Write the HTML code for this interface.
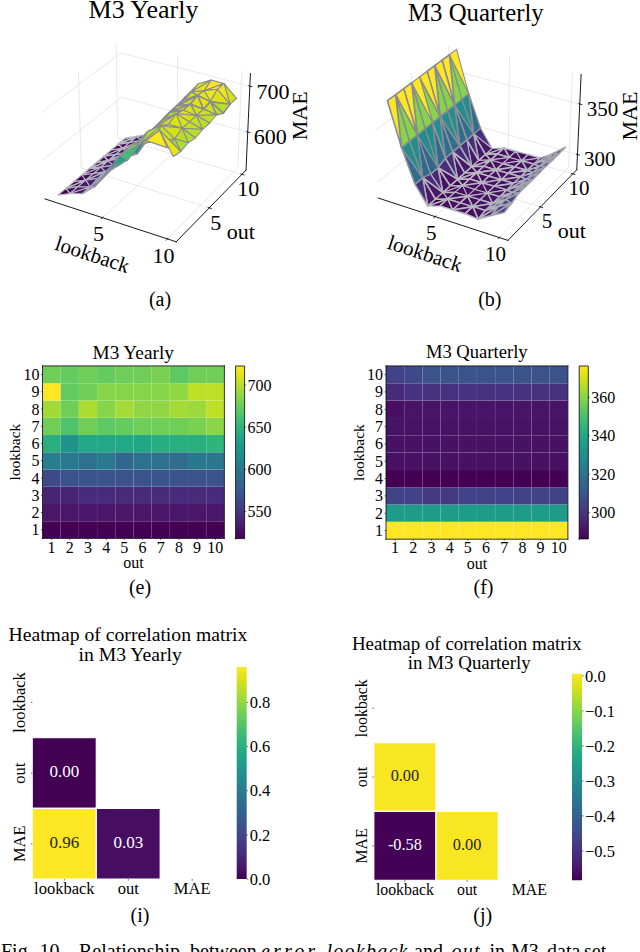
<!DOCTYPE html>
<html><head><meta charset="utf-8"><style>
html,body{margin:0;padding:0;background:#fff;width:640px;height:952px;overflow:hidden}
svg{display:block;font-family:"Liberation Serif"}
</style></head><body>
<svg width="640" height="952" viewBox="0 0 640 952" version="1.1">
  <defs><linearGradient id="vir" x1="0" y1="1" x2="0" y2="0"><stop offset="0.0000" stop-color="#440154"/><stop offset="0.0625" stop-color="#48186a"/><stop offset="0.1250" stop-color="#472d7b"/><stop offset="0.1875" stop-color="#424086"/><stop offset="0.2500" stop-color="#3b528b"/><stop offset="0.3125" stop-color="#33638d"/><stop offset="0.3750" stop-color="#2c728e"/><stop offset="0.4375" stop-color="#26828e"/><stop offset="0.5000" stop-color="#21918c"/><stop offset="0.5625" stop-color="#1fa088"/><stop offset="0.6250" stop-color="#28ae80"/><stop offset="0.6875" stop-color="#3fbc73"/><stop offset="0.7500" stop-color="#5ec962"/><stop offset="0.8125" stop-color="#84d44b"/><stop offset="0.8750" stop-color="#addc30"/><stop offset="0.9375" stop-color="#d8e219"/><stop offset="1.0000" stop-color="#fde725"/></linearGradient>
  <style type="text/css">*{stroke-linejoin: round; stroke-linecap: butt}</style>
 </defs>
 <g id="figure_1">
  <g id="patch_1">
   <path d="M 0 952 L 640 952 L 640 0 L 0 0 z
" style="fill: #ffffff"/>
  </g>
  <g id="patch_2">
   <path d="M 27.178074 256.52996 L 261.051142 256.52996 L 261.051142 22.656892 L 27.178074 22.656892 z
" style="fill: #ffffff"/>
  </g>
  <g id="pane3d_1">
   <g id="patch_3">
    <path d="M 44.837103 198.864357 L 122.069628 134.126523 L 120.996022 40.762993 L 40.067523 99.820926 " style="fill: none; opacity: 0"/>
   </g>
  </g>
  <g id="pane3d_2">
   <g id="patch_4">
    <path d="M 122.069628 134.126523 L 246.000275 170.148269 L 250.422923 73.568939 L 120.996022 40.762993 " style="fill: none; opacity: 0"/>
   </g>
  </g>
  <g id="pane3d_3">
   <g id="patch_5">
    <path d="M 44.837103 198.864357 L 176.209641 241.770627 L 246.000275 170.148269 L 122.069628 134.126523 " style="fill: none; opacity: 0"/>
   </g>
  </g>
  <g id="grid3d_1">
   <g id="Line3DCollection_1">
    <path d="M 102.442763 217.678365 L 176.546843 149.960898 L 177.821969 55.166714 " style="fill: none; stroke: #d9d9d9; stroke-width: 0.6"/>
    <path d="M 167.427108 238.902252 L 237.749316 167.750041 L 241.789043 71.380503 " style="fill: none; stroke: #d9d9d9; stroke-width: 0.6"/>
   </g>
  </g>
  <g id="grid3d_2">
   <g id="Line3DCollection_2">
    <path d="M 78.398989 71.848368 L 81.34488 168.262814 L 209.276451 207.835946 " style="fill: none; stroke: #d9d9d9; stroke-width: 0.6"/>
    <path d="M 116.259068 44.219807 L 117.532821 137.929365 L 241.917624 174.338073 " style="fill: none; stroke: #d9d9d9; stroke-width: 0.6"/>
   </g>
  </g>
  <g id="grid3d_3">
   <g id="Line3DCollection_3">
    <path d="M 247.744676 132.055006 L 121.64563 97.254563 L 42.957784 159.839073 " style="fill: none; stroke: #d9d9d9; stroke-width: 0.6"/>
    <path d="M 249.845694 86.174145 L 121.135889 52.926134 L 40.690945 112.766701 " style="fill: none; stroke: #d9d9d9; stroke-width: 0.6"/>
   </g>
  </g>
  <g id="axis3d_1">
   <g id="line2d_1">
    <path d="M 44.837103 198.864357 L 176.209641 241.770627 " style="fill: none; stroke: #000000; stroke-width: 0.9; stroke-linecap: square"/>
   </g>
   <g id="xtick_1">
    <g id="line2d_2">
     <path d="M 103.089127 217.087708 L 101.147206 218.862266 " style="fill: none; stroke: #000000; stroke-width: 0.8; stroke-linecap: square"/>
    </g>
    <g id="text_1">
     <text style="font-size: 22px; font-family: 'Liberation Serif'; text-anchor: middle" x="98.551933" y="241.332627" transform="rotate(-0 98.551933 241.332627)">5</text>
    </g>
   </g>
   <g id="xtick_2">
    <g id="line2d_3">
     <path d="M 168.041813 238.280292 L 166.194936 240.148967 " style="fill: none; stroke: #000000; stroke-width: 0.8; stroke-linecap: square"/>
    </g>
    <g id="text_2">
     <text style="font-size: 22px; font-family: 'Liberation Serif'; text-anchor: middle" x="163.584185" y="262.825484" transform="rotate(-0 163.584185 262.825484)">10</text>
    </g>
   </g>
   <g id="text_3">
    <text style="font-size: 21px; font-family: 'Liberation Serif'; text-anchor: middle" x="90.254951" y="261.29109" transform="rotate(-341.912962 90.254951 261.29109)">lookback</text>
   </g>
  </g>
  <g id="axis3d_2">
   <g id="line2d_4">
    <path d="M 246.000275 170.148269 L 176.209641 241.770627 " style="fill: none; stroke: #000000; stroke-width: 0.9; stroke-linecap: square"/>
   </g>
   <g id="xtick_3">
    <g id="line2d_5">
     <path d="M 208.200274 207.503051 L 211.431492 208.502565 " style="fill: none; stroke: #000000; stroke-width: 0.8; stroke-linecap: square"/>
    </g>
    <g id="text_4">
     <text style="font-size: 22px; font-family: 'Liberation Serif'; text-anchor: middle" x="215.770245" y="229.849227" transform="rotate(-0 215.770245 229.849227)">5</text>
    </g>
   </g>
   <g id="xtick_4">
    <g id="line2d_6">
     <path d="M 240.873425 174.032425 L 244.008519 174.950099 " style="fill: none; stroke: #000000; stroke-width: 0.8; stroke-linecap: square"/>
    </g>
    <g id="text_5">
     <text style="font-size: 22px; font-family: 'Liberation Serif'; text-anchor: middle" x="248.150578" y="196.058176" transform="rotate(-0 248.150578 196.058176)">10</text>
    </g>
   </g>
   <g id="text_6">
    <text style="font-size: 22px; font-family: 'Liberation Serif'; text-anchor: middle" x="240.722625" y="238.78496" transform="rotate(-0 240.722625 238.78496)">out</text>
   </g>
  </g>
  <g id="axis3d_3">
   <g id="line2d_7">
    <path d="M 246.000275 170.148269 L 250.422923 73.568939 " style="fill: none; stroke: #000000; stroke-width: 0.9; stroke-linecap: square"/>
   </g>
   <g id="xtick_5">
    <g id="line2d_8">
     <path d="M 246.685483 131.762693 L 249.865626 132.64034 " style="fill: none; stroke: #000000; stroke-width: 0.8; stroke-linecap: square"/>
    </g>
    <g id="text_7">
     <text style="font-size: 22px; font-family: 'Liberation Serif'; text-anchor: middle" x="270.317846" y="144.258373" transform="rotate(-0 270.317846 144.258373)">600</text>
    </g>
   </g>
   <g id="xtick_6">
    <g id="line2d_9">
     <path d="M 248.763496 85.894594 L 252.012764 86.733937 " style="fill: none; stroke: #000000; stroke-width: 0.8; stroke-linecap: square"/>
    </g>
    <g id="text_8">
     <text style="font-size: 22px; font-family: 'Liberation Serif'; text-anchor: middle" x="272.879826" y="98.511454" transform="rotate(-0 272.879826 98.511454)">700</text>
    </g>
   </g>
   <g id="text_9">
    <text style="font-size: 22px; font-family: 'Liberation Serif'; text-anchor: middle" x="306.572575" y="115.799926" transform="rotate(-90 306.572575 115.799926)">MAE</text>
   </g>
  </g>
  <g id="axes_1">
   <g id="Poly3DCollection_1">
    <path d="M 118.105833 144.238759 L 136.674452 136.510986 L 125.077398 138.340769 z
" clip-path="url(#pc98b0e5503)" style="fill: #440154; stroke: #b8b8c2; stroke-width: 1.6"/>
    <path d="M 129.747543 142.435982 L 136.674452 136.510986 L 118.105833 144.238759 z
" clip-path="url(#pc98b0e5503)" style="fill: #46085c; stroke: #b8b8c2; stroke-width: 1.6"/>
    <path d="M 148.435949 134.655258 L 136.674452 136.510986 L 141.555677 140.607434 z
" clip-path="url(#pc98b0e5503)" style="fill: #482173; stroke: #b2b2bc; stroke-width: 1.592955"/>
    <path d="M 141.555677 140.607434 L 136.674452 136.510986 L 129.747543 142.435982 z
" clip-path="url(#pc98b0e5503)" style="fill: #481a6c; stroke: #b6b6c0; stroke-width: 1.56258"/>
    <path d="M 129.747543 142.435982 L 118.105833 144.238759 L 122.707262 148.457951 z
" clip-path="url(#pc98b0e5503)" style="fill: #46085c; stroke: #b8b8c2; stroke-width: 1.452867"/>
    <path d="M 122.707262 148.457951 L 118.105833 144.238759 L 111.020977 150.232594 z
" clip-path="url(#pc98b0e5503)" style="fill: #440154; stroke: #b8b8c2; stroke-width: 1.363593"/>
    <path d="M 141.555677 140.607434 L 160.402558 126.549029 L 148.435949 134.655258 z
" clip-path="url(#pc98b0e5503)" style="fill: #443983; stroke: #a8a8b2; stroke-width: 1.05"/>
    <path d="M 129.747543 142.435982 L 122.707262 148.457951 L 141.555677 140.607434 z
" clip-path="url(#pc98b0e5503)" style="fill: #481a6c; stroke: #b6b6c0; stroke-width: 1.05"/>
    <path d="M 111.020977 150.232594 L 103.820045 156.32463 L 122.707262 148.457951 z
" clip-path="url(#pc98b0e5503)" style="fill: #440154; stroke: #b8b8c2; stroke-width: 1.211137"/>
    <path d="M 141.555677 140.607434 L 122.707262 148.457951 L 134.561986 146.65773 z
" clip-path="url(#pc98b0e5503)" style="fill: #482173; stroke: #b2b2bc; stroke-width: 1.141068"/>
    <path d="M 141.555677 140.607434 L 153.551739 132.494273 L 160.402558 126.549029 z
" clip-path="url(#pc98b0e5503)" style="fill: #3f4889; stroke: #a2a2ac; stroke-width: 1.05"/>
    <path d="M 122.707262 148.457951 L 103.820045 156.32463 L 115.550803 154.579294 z
" clip-path="url(#pc98b0e5503)" style="fill: #46085c; stroke: #b8b8c2; stroke-width: 1.05"/>
    <path d="M 172.631646 116.469467 L 160.402558 126.549029 L 153.551739 132.494273 z
" clip-path="url(#pc98b0e5503)" style="fill: #31668e; stroke: #9696a1; stroke-width: 1.6"/>
    <path d="M 127.452048 152.808592 L 134.561986 146.65773 L 122.707262 148.457951 z
" clip-path="url(#pc98b0e5503)" style="fill: #482173; stroke: #b2b2bc; stroke-width: 1.6"/>
    <path d="M 141.555677 140.607434 L 134.561986 146.65773 L 146.586838 138.538519 z
" clip-path="url(#pc98b0e5503)" style="fill: #443983; stroke: #a8a8b2; stroke-width: 1.197777"/>
    <path d="M 122.707262 148.457951 L 115.550803 154.579294 L 127.452048 152.808592 z
" clip-path="url(#pc98b0e5503)" style="fill: #481a6c; stroke: #b6b6c0; stroke-width: 1.149699"/>
    <path d="M 146.586838 138.538519 L 153.551739 132.494273 L 141.555677 140.607434 z
" clip-path="url(#pc98b0e5503)" style="fill: #3f4889; stroke: #a2a2ac; stroke-width: 1.347179"/>
    <path d="M 115.550803 154.579294 L 103.820045 156.32463 L 108.275268 160.80249 z
" clip-path="url(#pc98b0e5503)" style="fill: #46085c; stroke: #b8b8c2; stroke-width: 1.421727"/>
    <path d="M 108.275268 160.80249 L 103.820045 156.32463 L 96.500161 162.5173 z
" clip-path="url(#pc98b0e5503)" style="fill: #440154; stroke: #b8b8c2; stroke-width: 1.6"/>
    <path d="M 127.452048 152.808592 L 115.550803 154.579294 L 108.275268 160.80249 z
" clip-path="url(#pc98b0e5503)" style="fill: #481a6c; stroke: #b6b6c0; stroke-width: 1.6"/>
    <path d="M 165.807434 122.396071 L 172.631646 116.469467 L 153.551739 132.494273 z
" clip-path="url(#pc98b0e5503)" style="fill: #2c738e; stroke: #91919c; stroke-width: 1.547925"/>
    <path d="M 108.275268 160.80249 L 96.500161 162.5173 L 89.058354 168.813118 z
" clip-path="url(#pc98b0e5503)" style="fill: #440154; stroke: #b8b8c2; stroke-width: 1.592955"/>
    <path d="M 139.501751 143.777296 L 134.561986 146.65773 L 127.452048 152.808592 z
" clip-path="url(#pc98b0e5503)" style="fill: #443a83; stroke: #a7a7b1; stroke-width: 1.6"/>
    <path d="M 146.586838 138.538519 L 134.561986 146.65773 L 139.501751 143.777296 z
" clip-path="url(#pc98b0e5503)" style="fill: #3e4989; stroke: #a1a1ab; stroke-width: 1.6"/>
    <path d="M 158.844214 132.991972 L 153.551739 132.494273 L 146.586838 138.538519 z
" clip-path="url(#pc98b0e5503)" style="fill: #34618d; stroke: #9898a2; stroke-width: 1.6"/>
    <path d="M 165.807434 122.396071 L 153.551739 132.494273 L 158.844214 132.991972 z
" clip-path="url(#pc98b0e5503)" style="fill: #2e6f8e; stroke: #93939d; stroke-width: 1.6"/>
    <path d="M 108.275268 160.80249 L 120.222939 159.06255 L 127.452048 152.808592 z
" clip-path="url(#pc98b0e5503)" style="fill: #482173; stroke: #b2b2bc; stroke-width: 1.409665"/>
    <path d="M 89.058354 168.813118 L 100.877659 167.130103 L 108.275268 160.80249 z
" clip-path="url(#pc98b0e5503)" style="fill: #46085c; stroke: #b8b8c2; stroke-width: 1.33648"/>
    <path d="M 127.452048 152.808592 L 120.222939 159.06255 L 139.501751 143.777296 z
" clip-path="url(#pc98b0e5503)" style="fill: #443a83; stroke: #a7a7b1; stroke-width: 1.577573"/>
    <path d="M 178.440399 104.647148 L 172.631646 116.469467 L 165.807434 122.396071 z
" clip-path="url(#pc98b0e5503)" style="fill: #1f978b; stroke: #8a8a94; stroke-width: 1.533574"/>
    <path d="M 89.058354 168.813118 L 81.49155 175.214683 L 100.877659 167.130103 z
" clip-path="url(#pc98b0e5503)" style="fill: #440154; stroke: #b8b8c2; stroke-width: 1.533574"/>
    <path d="M 139.501751 143.777296 L 158.844214 132.991972 L 146.586838 138.538519 z
" clip-path="url(#pc98b0e5503)" style="fill: #33628d; stroke: #9898a2; stroke-width: 1.577573"/>
    <path d="M 112.87164 165.422216 L 120.222939 159.06255 L 108.275268 160.80249 z
" clip-path="url(#pc98b0e5503)" style="fill: #482173; stroke: #b2b2bc; stroke-width: 1.05"/>
    <path d="M 178.440399 104.647148 L 185.288461 96.930778 L 172.631646 116.469467 z
" clip-path="url(#pc98b0e5503)" style="fill: #28ae80; stroke: #8a8a94; stroke-width: 1.05"/>
    <path d="M 108.275268 160.80249 L 100.877659 167.130103 L 112.87164 165.422216 z
" clip-path="url(#pc98b0e5503)" style="fill: #481a6c; stroke: #b6b6c0; stroke-width: 1.197777"/>
    <path d="M 165.807434 122.396071 L 158.844214 132.991972 L 178.440399 104.647148 z
" clip-path="url(#pc98b0e5503)" style="fill: #20928c; stroke: #8a8a94; stroke-width: 1.149699"/>
    <path d="M 139.501751 143.777296 L 120.222939 159.06255 L 132.303199 150.934076 z
" clip-path="url(#pc98b0e5503)" style="fill: #3e4989; stroke: #a1a1ab; stroke-width: 1.05"/>
    <path d="M 100.877659 167.130103 L 81.49155 175.214683 L 93.354877 173.564784 z
" clip-path="url(#pc98b0e5503)" style="fill: #46085c; stroke: #b8b8c2; stroke-width: 1.05"/>
    <path d="M 151.805666 137.310723 L 158.844214 132.991972 L 139.501751 143.777296 z
" clip-path="url(#pc98b0e5503)" style="fill: #2e6d8e; stroke: #94949e; stroke-width: 1.05"/>
    <path d="M 112.87164 165.422216 L 100.877659 167.130103 L 105.395024 171.890294 z
" clip-path="url(#pc98b0e5503)" style="fill: #482173; stroke: #b2b2bc; stroke-width: 1.05"/>
    <path d="M 124.978418 157.290631 L 120.222939 159.06255 L 112.87164 165.422216 z
" clip-path="url(#pc98b0e5503)" style="fill: #443983; stroke: #a8a8b2; stroke-width: 1.05"/>
    <path d="M 105.395024 171.890294 L 100.877659 167.130103 L 93.354877 173.564784 z
" clip-path="url(#pc98b0e5503)" style="fill: #481a6c; stroke: #b6b6c0; stroke-width: 1.05"/>
    <path d="M 132.303199 150.934076 L 120.222939 159.06255 L 124.978418 157.290631 z
" clip-path="url(#pc98b0e5503)" style="fill: #3f4889; stroke: #a2a2ac; stroke-width: 1.05"/>
    <path d="M 93.354877 173.564784 L 81.49155 175.214683 L 85.703718 180.109273 z
" clip-path="url(#pc98b0e5503)" style="fill: #46085c; stroke: #b8b8c2; stroke-width: 1.05"/>
    <path d="M 85.703718 180.109273 L 81.49155 175.214683 L 73.796576 181.724683 z
" clip-path="url(#pc98b0e5503)" style="fill: #440154; stroke: #b8b8c2; stroke-width: 1.05"/>
    <path d="M 178.440399 104.647148 L 158.844214 132.991972 L 171.507491 110.610256 z
" clip-path="url(#pc98b0e5503)" style="fill: #22a884; stroke: #8a8a94; stroke-width: 1.05"/>
    <path d="M 144.636936 143.560087 L 139.501751 143.777296 L 132.303199 150.934076 z
" clip-path="url(#pc98b0e5503)" style="fill: #32648e; stroke: #9797a1; stroke-width: 1.05"/>
    <path d="M 151.805666 137.310723 L 139.501751 143.777296 L 144.636936 143.560087 z
" clip-path="url(#pc98b0e5503)" style="fill: #2e6f8e; stroke: #93939d; stroke-width: 1.05"/>
    <path d="M 185.288461 96.930778 L 178.440399 104.647148 L 191.333498 92.077185 z
" clip-path="url(#pc98b0e5503)" style="fill: #6ece58; stroke: #8a8a94; stroke-width: 1.202216"/>
    <path d="M 191.333498 92.077185 L 198.178255 83.797499 L 185.288461 96.930778 z
" clip-path="url(#pc98b0e5503)" style="fill: #a0da39; stroke: #8a8a94; stroke-width: 1.141068"/>
    <path d="M 164.447795 117.617959 L 158.844214 132.991972 L 151.805666 137.310723 z
" clip-path="url(#pc98b0e5503)" style="fill: #218f8d; stroke: #8a8a94; stroke-width: 1.162698"/>
    <path d="M 112.87164 165.422216 L 105.395024 171.890294 L 124.978418 157.290631 z
" clip-path="url(#pc98b0e5503)" style="fill: #443983; stroke: #a8a8b2; stroke-width: 1.224648"/>
    <path d="M 93.354877 173.564784 L 85.703718 180.109273 L 105.395024 171.890294 z
" clip-path="url(#pc98b0e5503)" style="fill: #481a6c; stroke: #b6b6c0; stroke-width: 1.197777"/>
    <path d="M 73.796576 181.724683 L 65.970145 188.345895 L 85.703718 180.109273 z
" clip-path="url(#pc98b0e5503)" style="fill: #440154; stroke: #b8b8c2; stroke-width: 1.167048"/>
    <path d="M 171.507491 110.610256 L 158.844214 132.991972 L 164.447795 117.617959 z
" clip-path="url(#pc98b0e5503)" style="fill: #22a785; stroke: #8a8a94; stroke-width: 1.409665"/>
    <path d="M 132.303199 150.934076 L 124.978418 157.290631 L 144.636936 143.560087 z
" clip-path="url(#pc98b0e5503)" style="fill: #33638d; stroke: #9898a2; stroke-width: 1.33648"/>
    <path d="M 191.333498 92.077185 L 178.440399 104.647148 L 171.507491 110.610256 z
" clip-path="url(#pc98b0e5503)" style="fill: #69cd5b; stroke: #8a8a94; stroke-width: 1.409665"/>
    <path d="M 151.805666 137.310723 L 144.636936 143.560087 L 164.447795 117.617959 z
" clip-path="url(#pc98b0e5503)" style="fill: #21918c; stroke: #8a8a94; stroke-width: 1.33648"/>
    <path d="M 105.395024 171.890294 L 85.703718 180.109273 L 97.789861 178.469579 z
" clip-path="url(#pc98b0e5503)" style="fill: #482173; stroke: #b2b2bc; stroke-width: 1.220126"/>
    <path d="M 211.112089 80.106064 L 198.178255 83.797499 L 191.333498 92.077185 z
" clip-path="url(#pc98b0e5503)" style="fill: #dfe318; stroke: #8a8a94; stroke-width: 1.171406"/>
    <path d="M 124.978418 157.290631 L 105.395024 171.890294 L 117.52746 163.756685 z
" clip-path="url(#pc98b0e5503)" style="fill: #3f4889; stroke: #a2a2ac; stroke-width: 1.403716"/>
    <path d="M 85.703718 180.109273 L 65.970145 188.345895 L 77.920869 186.766405 z
" clip-path="url(#pc98b0e5503)" style="fill: #46085c; stroke: #b8b8c2; stroke-width: 1.331203"/>
    <path d="M 144.636936 143.560087 L 124.978418 157.290631 L 137.361466 153.627539 z
" clip-path="url(#pc98b0e5503)" style="fill: #306a8e; stroke: #95959f; stroke-width: 1.331203"/>
    <path d="M 171.507491 110.610256 L 184.395242 99.910428 L 191.333498 92.077185 z
" clip-path="url(#pc98b0e5503)" style="fill: #8ed645; stroke: #8a8a94; stroke-width: 1.403716"/>
    <path d="M 191.333498 92.077185 L 204.250406 90.7206 L 211.112089 80.106064 z
" clip-path="url(#pc98b0e5503)" style="fill: #e7e419; stroke: #8a8a94; stroke-width: 1.05"/>
    <path d="M 85.703718 180.109273 L 90.101886 186.999233 L 97.789861 178.469579 z
" clip-path="url(#pc98b0e5503)" style="fill: #481f70; stroke: #b3b3bd; stroke-width: 1.05"/>
    <path d="M 171.507491 110.610256 L 164.447795 117.617959 L 184.395242 99.910428 z
" clip-path="url(#pc98b0e5503)" style="fill: #63cb5f; stroke: #8a8a94; stroke-width: 1.05"/>
    <path d="M 77.920869 186.766405 L 90.101886 186.999233 L 85.703718 180.109273 z
" clip-path="url(#pc98b0e5503)" style="fill: #481769; stroke: #b7b7c1; stroke-width: 1.05"/>
    <path d="M 97.789861 178.469579 L 109.947037 170.33509 L 105.395024 171.890294 z
" clip-path="url(#pc98b0e5503)" style="fill: #443983; stroke: #a8a8b2; stroke-width: 1.05"/>
    <path d="M 105.395024 171.890294 L 109.947037 170.33509 L 117.52746 163.756685 z
" clip-path="url(#pc98b0e5503)" style="fill: #3f4889; stroke: #a2a2ac; stroke-width: 1.05"/>
    <path d="M 65.970145 188.345895 L 70.002899 193.539113 L 77.920869 186.766405 z
" clip-path="url(#pc98b0e5503)" style="fill: #46085c; stroke: #b8b8c2; stroke-width: 1.211137"/>
    <path d="M 204.250406 90.7206 L 224.01393 83.458434 L 211.112089 80.106064 z
" clip-path="url(#pc98b0e5503)" style="fill: #fde725; stroke: #8a8a94; stroke-width: 1.162698"/>
    <path d="M 58.008861 195.081193 L 70.002899 193.539113 L 65.970145 188.345895 z
" clip-path="url(#pc98b0e5503)" style="fill: #440154; stroke: #b8b8c2; stroke-width: 1.215622"/>
    <path d="M 164.447795 117.617959 L 144.636936 143.560087 L 157.262984 126.632008 z
" clip-path="url(#pc98b0e5503)" style="fill: #21a585; stroke: #8a8a94; stroke-width: 1.18454"/>
    <path d="M 124.978418 157.290631 L 129.895293 152.6408 L 137.361466 153.627539 z
" clip-path="url(#pc98b0e5503)" style="fill: #2e6e8e; stroke: #93939e; stroke-width: 1.05"/>
    <path d="M 117.52746 163.756685 L 129.895293 152.6408 L 124.978418 157.290631 z
" clip-path="url(#pc98b0e5503)" style="fill: #31678e; stroke: #9696a0; stroke-width: 1.05"/>
    <path d="M 137.361466 153.627539 L 149.975904 131.98327 L 144.636936 143.560087 z
" clip-path="url(#pc98b0e5503)" style="fill: #228b8d; stroke: #8a8a94; stroke-width: 1.05"/>
    <path d="M 197.439243 95.236404 L 204.250406 90.7206 L 191.333498 92.077185 z
" clip-path="url(#pc98b0e5503)" style="fill: #dde318; stroke: #8a8a94; stroke-width: 1.05"/>
    <path d="M 184.395242 99.910428 L 197.439243 95.236404 L 191.333498 92.077185 z
" clip-path="url(#pc98b0e5503)" style="fill: #cae11f; stroke: #8a8a94; stroke-width: 1.05"/>
    <path d="M 224.01393 83.458434 L 230.034169 104.323455 L 236.585224 98.309071 z
" clip-path="url(#pc98b0e5503)" style="fill: #d0e11c; stroke: #8a8a94; stroke-width: 1.05"/>
    <path d="M 97.789861 178.469579 L 90.101886 186.999233 L 109.947037 170.33509 z
" clip-path="url(#pc98b0e5503)" style="fill: #453781; stroke: #a9a9b3; stroke-width: 1.05"/>
    <path d="M 217.352611 89.344553 L 224.01393 83.458434 L 204.250406 90.7206 z
" clip-path="url(#pc98b0e5503)" style="fill: #fde725; stroke: #8a8a94; stroke-width: 1.05"/>
    <path d="M 77.920869 186.766405 L 70.002899 193.539113 L 90.101886 186.999233 z
" clip-path="url(#pc98b0e5503)" style="fill: #481769; stroke: #b7b7c1; stroke-width: 1.05"/>
    <path d="M 184.395242 99.910428 L 164.447795 117.617959 L 177.374066 105.952812 z
" clip-path="url(#pc98b0e5503)" style="fill: #86d549; stroke: #8a8a94; stroke-width: 1.05"/>
    <path d="M 144.636936 143.560087 L 149.975904 131.98327 L 157.262984 126.632008 z
" clip-path="url(#pc98b0e5503)" style="fill: #20a386; stroke: #8a8a94; stroke-width: 1.05"/>
    <path d="M 217.352611 89.344553 L 230.034169 104.323455 L 224.01393 83.458434 z
" clip-path="url(#pc98b0e5503)" style="fill: #efe51c; stroke: #8a8a94; stroke-width: 1.05"/>
    <path d="M 117.52746 163.756685 L 109.947037 170.33509 L 129.895293 152.6408 z
" clip-path="url(#pc98b0e5503)" style="fill: #31678e; stroke: #9696a0; stroke-width: 1.05"/>
    <path d="M 197.439243 95.236404 L 184.395242 99.910428 L 177.374066 105.952812 z
" clip-path="url(#pc98b0e5503)" style="fill: #c5e021; stroke: #8a8a94; stroke-width: 1.05"/>
    <path d="M 204.250406 90.7206 L 210.396272 101.612174 L 217.352611 89.344553 z
" clip-path="url(#pc98b0e5503)" style="fill: #efe51c; stroke: #8a8a94; stroke-width: 1.05"/>
    <path d="M 157.262984 126.632008 L 170.229439 112.101439 L 164.447795 117.617959 z
" clip-path="url(#pc98b0e5503)" style="fill: #5ac864; stroke: #8a8a94; stroke-width: 1.05"/>
    <path d="M 137.361466 153.627539 L 129.895293 152.6408 L 149.975904 131.98327 z
" clip-path="url(#pc98b0e5503)" style="fill: #218f8d; stroke: #8a8a94; stroke-width: 1.05"/>
    <path d="M 90.101886 186.999233 L 70.002899 193.539113 L 82.236719 193.819869 z
" clip-path="url(#pc98b0e5503)" style="fill: #481c6e; stroke: #b4b4bf; stroke-width: 1.05"/>
    <path d="M 204.250406 90.7206 L 197.439243 95.236404 L 210.396272 101.612174 z
" clip-path="url(#pc98b0e5503)" style="fill: #e7e419; stroke: #8a8a94; stroke-width: 1.05"/>
    <path d="M 109.947037 170.33509 L 90.101886 186.999233 L 102.233745 177.028801 z
" clip-path="url(#pc98b0e5503)" style="fill: #404688; stroke: #a3a3ad; stroke-width: 1.05"/>
    <path d="M 164.447795 117.617959 L 170.229439 112.101439 L 177.374066 105.952812 z
" clip-path="url(#pc98b0e5503)" style="fill: #86d549; stroke: #8a8a94; stroke-width: 1.05"/>
    <path d="M 210.396272 101.612174 L 230.034169 104.323455 L 217.352611 89.344553 z
" clip-path="url(#pc98b0e5503)" style="fill: #dde318; stroke: #8a8a94; stroke-width: 1.05"/>
    <path d="M 129.895293 152.6408 L 109.947037 170.33509 L 122.375692 162.966397 z
" clip-path="url(#pc98b0e5503)" style="fill: #2c718e; stroke: #92929c; stroke-width: 1.6"/>
    <path d="M 223.26922 113.32531 L 230.034169 104.323455 L 210.396272 101.612174 z
" clip-path="url(#pc98b0e5503)" style="fill: #b5de2b; stroke: #8a8a94; stroke-width: 1.6"/>
    <path d="M 177.374066 105.952812 L 190.414814 104.191351 L 197.439243 95.236404 z
" clip-path="url(#pc98b0e5503)" style="fill: #d5e21a; stroke: #8a8a94; stroke-width: 1.6"/>
    <path d="M 149.975904 131.98327 L 170.229439 112.101439 L 157.262984 126.632008 z
" clip-path="url(#pc98b0e5503)" style="fill: #56c667; stroke: #8a8a94; stroke-width: 1.6"/>
    <path d="M 82.236719 193.819869 L 94.453412 186.649823 L 90.101886 186.999233 z
" clip-path="url(#pc98b0e5503)" style="fill: #46307e; stroke: #ababb6; stroke-width: 1.533574"/>
    <path d="M 90.101886 186.999233 L 94.453412 186.649823 L 102.233745 177.028801 z
" clip-path="url(#pc98b0e5503)" style="fill: #414287; stroke: #a4a4ae; stroke-width: 1.577573"/>
    <path d="M 203.479305 109.198187 L 210.396272 101.612174 L 197.439243 95.236404 z
" clip-path="url(#pc98b0e5503)" style="fill: #dfe318; stroke: #8a8a94; stroke-width: 1.533574"/>
    <path d="M 177.374066 105.952812 L 170.229439 112.101439 L 190.414814 104.191351 z
" clip-path="url(#pc98b0e5503)" style="fill: #bddf26; stroke: #8a8a94; stroke-width: 1.577573"/>
    <path d="M 149.975904 131.98327 L 129.895293 152.6408 L 142.555728 138.390688 z
" clip-path="url(#pc98b0e5503)" style="fill: #22a884; stroke: #8a8a94; stroke-width: 1.533574"/>
    <path d="M 197.439243 95.236404 L 190.414814 104.191351 L 203.479305 109.198187 z
" clip-path="url(#pc98b0e5503)" style="fill: #dfe318; stroke: #8a8a94; stroke-width: 1.577573"/>
    <path d="M 102.233745 177.028801 L 114.635224 165.876924 L 109.947037 170.33509 z
" clip-path="url(#pc98b0e5503)" style="fill: #31678e; stroke: #9696a0; stroke-width: 1.409665"/>
    <path d="M 109.947037 170.33509 L 114.635224 165.876924 L 122.375692 162.966397 z
" clip-path="url(#pc98b0e5503)" style="fill: #2c718e; stroke: #92929c; stroke-width: 1.33648"/>
    <path d="M 210.396272 101.612174 L 216.64503 114.73445 L 223.26922 113.32531 z
" clip-path="url(#pc98b0e5503)" style="fill: #bade28; stroke: #8a8a94; stroke-width: 1.409665"/>
    <path d="M 135.003305 144.912303 L 129.895293 152.6408 L 122.375692 162.966397 z
" clip-path="url(#pc98b0e5503)" style="fill: #20928c; stroke: #8a8a94; stroke-width: 1.33648"/>
    <path d="M 162.944318 120.295932 L 170.229439 112.101439 L 149.975904 131.98327 z
" clip-path="url(#pc98b0e5503)" style="fill: #7cd250; stroke: #8a8a94; stroke-width: 1.6"/>
    <path d="M 203.479305 109.198187 L 216.64503 114.73445 L 210.396272 101.612174 z
" clip-path="url(#pc98b0e5503)" style="fill: #cde11d; stroke: #8a8a94; stroke-width: 1.6"/>
    <path d="M 170.229439 112.101439 L 183.33193 110.370646 L 190.414814 104.191351 z
" clip-path="url(#pc98b0e5503)" style="fill: #cde11d; stroke: #8a8a94; stroke-width: 1.6"/>
    <path d="M 142.555728 138.390688 L 129.895293 152.6408 L 135.003305 144.912303 z
" clip-path="url(#pc98b0e5503)" style="fill: #22a884; stroke: #8a8a94; stroke-width: 1.6"/>
    <path d="M 102.233745 177.028801 L 94.453412 186.649823 L 114.635224 165.876924 z
" clip-path="url(#pc98b0e5503)" style="fill: #32648e; stroke: #9797a1; stroke-width: 1.577573"/>
    <path d="M 203.479305 109.198187 L 190.414814 104.191351 L 196.480954 115.449688 z
" clip-path="url(#pc98b0e5503)" style="fill: #d2e21b; stroke: #8a8a94; stroke-width: 1.533574"/>
    <path d="M 183.33193 110.370646 L 170.229439 112.101439 L 162.944318 120.295932 z
" clip-path="url(#pc98b0e5503)" style="fill: #b8de29; stroke: #8a8a94; stroke-width: 1.577573"/>
    <path d="M 142.555728 138.390688 L 155.545584 127.650247 L 149.975904 131.98327 z
" clip-path="url(#pc98b0e5503)" style="fill: #52c569; stroke: #8a8a94; stroke-width: 1.533574"/>
    <path d="M 196.480954 115.449688 L 190.414814 104.191351 L 183.33193 110.370646 z
" clip-path="url(#pc98b0e5503)" style="fill: #d8e219; stroke: #8a8a94; stroke-width: 1.05"/>
    <path d="M 149.975904 131.98327 L 155.545584 127.650247 L 162.944318 120.295932 z
" clip-path="url(#pc98b0e5503)" style="fill: #75d054; stroke: #8a8a94; stroke-width: 1.05"/>
    <path d="M 122.375692 162.966397 L 114.635224 165.876924 L 135.003305 144.912303 z
" clip-path="url(#pc98b0e5503)" style="fill: #20928c; stroke: #8a8a94; stroke-width: 1.05"/>
    <path d="M 196.480954 115.449688 L 216.64503 114.73445 L 203.479305 109.198187 z
" clip-path="url(#pc98b0e5503)" style="fill: #cae11f; stroke: #8a8a94; stroke-width: 1.05"/>
    <path d="M 114.635224 165.876924 L 94.453412 186.649823 L 106.782389 171.718273 z
" clip-path="url(#pc98b0e5503)" style="fill: #2c738e; stroke: #91919c; stroke-width: 1.05"/>
    <path d="M 162.944318 120.295932 L 176.160786 113.724408 L 183.33193 110.370646 z
" clip-path="url(#pc98b0e5503)" style="fill: #d0e11c; stroke: #8a8a94; stroke-width: 1.05"/>
    <path d="M 196.480954 115.449688 L 209.679204 123.010917 L 216.64503 114.73445 z
" clip-path="url(#pc98b0e5503)" style="fill: #c0df25; stroke: #8a8a94; stroke-width: 1.05"/>
    <path d="M 142.555728 138.390688 L 135.003305 144.912303 L 155.545584 127.650247 z
" clip-path="url(#pc98b0e5503)" style="fill: #52c569; stroke: #8a8a94; stroke-width: 1.05"/>
    <path d="M 196.480954 115.449688 L 183.33193 110.370646 L 176.160786 113.724408 z
" clip-path="url(#pc98b0e5503)" style="fill: #dfe318; stroke: #8a8a94; stroke-width: 1.05"/>
    <path d="M 135.003305 144.912303 L 114.635224 165.876924 L 127.394702 160.226867 z
" clip-path="url(#pc98b0e5503)" style="fill: #1fa088; stroke: #8a8a94; stroke-width: 1.05"/>
    <path d="M 155.545584 127.650247 L 176.160786 113.724408 L 162.944318 120.295932 z
" clip-path="url(#pc98b0e5503)" style="fill: #b8de29; stroke: #8a8a94; stroke-width: 1.05"/>
    <path d="M 196.480954 115.449688 L 176.160786 113.724408 L 189.356954 121.813429 z
" clip-path="url(#pc98b0e5503)" style="fill: #dae319; stroke: #8a8a94; stroke-width: 1.05"/>
    <path d="M 202.649747 129.464513 L 209.679204 123.010917 L 196.480954 115.449688 z
" clip-path="url(#pc98b0e5503)" style="fill: #bade28; stroke: #8a8a94; stroke-width: 1.05"/>
    <path d="M 155.545584 127.650247 L 135.003305 144.912303 L 148.021409 131.213546 z
" clip-path="url(#pc98b0e5503)" style="fill: #7ad151; stroke: #8a8a94; stroke-width: 1.05"/>
    <path d="M 189.356954 121.813429 L 202.649747 129.464513 L 196.480954 115.449688 z
" clip-path="url(#pc98b0e5503)" style="fill: #c5e021; stroke: #8a8a94; stroke-width: 1.05"/>
    <path d="M 168.768563 124.537543 L 176.160786 113.724408 L 155.545584 127.650247 z
" clip-path="url(#pc98b0e5503)" style="fill: #c8e020; stroke: #8a8a94; stroke-width: 1.05"/>
    <path d="M 106.782389 171.718273 L 119.449827 155.385907 L 114.635224 165.876924 z
" clip-path="url(#pc98b0e5503)" style="fill: #1f9a8a; stroke: #8a8a94; stroke-width: 1.05"/>
    <path d="M 114.635224 165.876924 L 119.449827 155.385907 L 127.394702 160.226867 z
" clip-path="url(#pc98b0e5503)" style="fill: #1fa287; stroke: #8a8a94; stroke-width: 1.05"/>
    <path d="M 127.394702 160.226867 L 140.367619 143.722272 L 135.003305 144.912303 z
" clip-path="url(#pc98b0e5503)" style="fill: #3bbb75; stroke: #8a8a94; stroke-width: 1.05"/>
    <path d="M 189.356954 121.813429 L 176.160786 113.724408 L 182.10389 128.29246 z
" clip-path="url(#pc98b0e5503)" style="fill: #dae319; stroke: #8a8a94; stroke-width: 1.05"/>
    <path d="M 182.10389 128.29246 L 176.160786 113.724408 L 168.768563 124.537543 z
" clip-path="url(#pc98b0e5503)" style="fill: #dae319; stroke: #8a8a94; stroke-width: 1.05"/>
    <path d="M 135.003305 144.912303 L 140.367619 143.722272 L 148.021409 131.213546 z
" clip-path="url(#pc98b0e5503)" style="fill: #73d056; stroke: #8a8a94; stroke-width: 1.05"/>
    <path d="M 182.10389 128.29246 L 202.649747 129.464513 L 189.356954 121.813429 z
" clip-path="url(#pc98b0e5503)" style="fill: #c5e021; stroke: #8a8a94; stroke-width: 1.05"/>
    <path d="M 155.545584 127.650247 L 161.335218 125.61881 L 168.768563 124.537543 z
" clip-path="url(#pc98b0e5503)" style="fill: #cae11f; stroke: #8a8a94; stroke-width: 1.05"/>
    <path d="M 148.021409 131.213546 L 161.335218 125.61881 L 155.545584 127.650247 z
" clip-path="url(#pc98b0e5503)" style="fill: #c0df25; stroke: #8a8a94; stroke-width: 1.05"/>
    <path d="M 127.394702 160.226867 L 119.449827 155.385907 L 140.367619 143.722272 z
" clip-path="url(#pc98b0e5503)" style="fill: #40bd72; stroke: #8a8a94; stroke-width: 1.05"/>
    <path d="M 182.10389 128.29246 L 195.449149 138.00439 L 202.649747 129.464513 z
" clip-path="url(#pc98b0e5503)" style="fill: #b5de2b; stroke: #8a8a94; stroke-width: 1.05"/>
    <path d="M 168.768563 124.537543 L 161.335218 125.61881 L 182.10389 128.29246 z
" clip-path="url(#pc98b0e5503)" style="fill: #dde318; stroke: #8a8a94; stroke-width: 1.05"/>
    <path d="M 148.021409 131.213546 L 140.367619 143.722272 L 161.335218 125.61881 z
" clip-path="url(#pc98b0e5503)" style="fill: #b8de29; stroke: #8a8a94; stroke-width: 1.05"/>
    <path d="M 161.335218 125.61881 L 174.668643 138.848677 L 182.10389 128.29246 z
" clip-path="url(#pc98b0e5503)" style="fill: #d2e21b; stroke: #8a8a94; stroke-width: 1.05"/>
    <path d="M 188.203946 142.726896 L 195.449149 138.00439 L 182.10389 128.29246 z
" clip-path="url(#pc98b0e5503)" style="fill: #b5de2b; stroke: #8a8a94; stroke-width: 1.05"/>
    <path d="M 182.10389 128.29246 L 174.668643 138.848677 L 188.203946 142.726896 z
" clip-path="url(#pc98b0e5503)" style="fill: #bade28; stroke: #8a8a94; stroke-width: 1.05"/>
    <path d="M 161.335218 125.61881 L 140.367619 143.722272 L 153.683549 141.683707 z
" clip-path="url(#pc98b0e5503)" style="fill: #b8de29; stroke: #8a8a94; stroke-width: 1.05"/>
    <path d="M 140.367619 143.722272 L 119.449827 155.385907 L 132.535337 144.540774 z
" clip-path="url(#pc98b0e5503)" style="fill: #7ad151; stroke: #8a8a94; stroke-width: 1.05"/>
    <path d="M 174.668643 138.848677 L 161.335218 125.61881 L 153.683549 141.683707 z
" clip-path="url(#pc98b0e5503)" style="fill: #c8e020; stroke: #8a8a94; stroke-width: 1.05"/>
    <path d="M 153.683549 141.683707 L 167.14185 147.57812 L 174.668643 138.848677 z
" clip-path="url(#pc98b0e5503)" style="fill: #aadc32; stroke: #8a8a94; stroke-width: 1.05"/>
    <path d="M 153.683549 141.683707 L 140.367619 143.722272 L 145.946667 140.478541 z
" clip-path="url(#pc98b0e5503)" style="fill: #b5de2b; stroke: #8a8a94; stroke-width: 1.05"/>
    <path d="M 174.668643 138.848677 L 180.749759 151.535276 L 188.203946 142.726896 z
" clip-path="url(#pc98b0e5503)" style="fill: #aadc32; stroke: #8a8a94; stroke-width: 1.05"/>
    <path d="M 145.946667 140.478541 L 140.367619 143.722272 L 132.535337 144.540774 z
" clip-path="url(#pc98b0e5503)" style="fill: #b5de2b; stroke: #8a8a94; stroke-width: 1.05"/>
    <path d="M 167.14185 147.57812 L 180.749759 151.535276 L 174.668643 138.848677 z
" clip-path="url(#pc98b0e5503)" style="fill: #a5db36; stroke: #8a8a94; stroke-width: 1.05"/>
    <path d="M 145.946667 140.478541 L 167.14185 147.57812 L 153.683549 141.683707 z
" clip-path="url(#pc98b0e5503)" style="fill: #c0df25; stroke: #8a8a94; stroke-width: 1.05"/>
    <path d="M 159.636825 130.235988 L 180.749759 151.535276 L 167.14185 147.57812 z
" clip-path="url(#pc98b0e5503)" style="fill: #dfe318; stroke: #8a8a94; stroke-width: 1.05"/>
    <path d="M 145.946667 140.478541 L 159.636825 130.235988 L 167.14185 147.57812 z
" clip-path="url(#pc98b0e5503)" style="fill: #f8e621; stroke: #8a8a94; stroke-width: 1.05"/>
    <path d="M 173.218196 156.484995 L 180.749759 151.535276 L 159.636825 130.235988 z
" clip-path="url(#pc98b0e5503)" style="fill: #e5e419; stroke: #8a8a94; stroke-width: 1.05"/>
   </g>
  </g>
  <g id="patch_6">
   <path d="M 360.903411 254.949734 L 591.592122 254.949734 L 591.592122 24.261023 L 360.903411 24.261023 z
" style="fill: #ffffff"/>
  </g>
  <g id="pane3d_4">
   <g id="patch_7">
    <path d="M 378.322 198.069291 L 454.502946 134.212911 L 453.443958 42.120596 L 373.617361 100.374411 " style="fill: none; opacity: 0"/>
   </g>
  </g>
  <g id="pane3d_5">
   <g id="patch_8">
    <path d="M 454.502946 134.212911 L 576.746183 169.744194 L 581.108613 74.479865 L 453.443958 42.120596 " style="fill: none; opacity: 0"/>
   </g>
  </g>
  <g id="pane3d_6">
   <g id="patch_9">
    <path d="M 378.322 198.069291 L 507.905802 240.39136 L 576.746183 169.744194 L 454.502946 134.212911 " style="fill: none; opacity: 0"/>
   </g>
  </g>
  <g id="grid3d_4">
   <g id="Line3DCollection_4">
    <path d="M 435.143315 216.627132 L 508.238412 149.831689 L 509.496177 56.3282 " style="fill: none; stroke: #d9d9d9; stroke-width: 0.6"/>
    <path d="M 499.242849 237.56204 L 568.607567 167.378619 L 572.59229 72.321225 " style="fill: none; stroke: #d9d9d9; stroke-width: 0.6"/>
   </g>
  </g>
  <g id="grid3d_5">
   <g id="Line3DCollection_5">
    <path d="M 411.426915 72.78272 L 414.332696 167.884411 L 540.522382 206.918725 " style="fill: none; stroke: #d9d9d9; stroke-width: 0.6"/>
    <path d="M 448.7715 45.530343 L 450.02791 137.963974 L 572.71912 173.876951 " style="fill: none; stroke: #d9d9d9; stroke-width: 0.6"/>
   </g>
  </g>
  <g id="grid3d_6">
   <g id="Line3DCollection_6">
    <path d="M 577.44483 154.487529 L 454.333047 119.438079 L 377.569614 182.445514 " style="fill: none; stroke: #d9d9d9; stroke-width: 0.6"/>
    <path d="M 579.757022 103.995161 L 453.771581 70.611567 L 375.076673 130.677988 " style="fill: none; stroke: #d9d9d9; stroke-width: 0.6"/>
   </g>
  </g>
  <g id="axis3d_4">
   <g id="line2d_10">
    <path d="M 378.322 198.069291 L 507.905802 240.39136 " style="fill: none; stroke: #000000; stroke-width: 0.9; stroke-linecap: square"/>
   </g>
   <g id="xtick_7">
    <g id="line2d_11">
     <path d="M 435.780878 216.044517 L 433.865398 217.794913 " style="fill: none; stroke: #000000; stroke-width: 0.8; stroke-linecap: square"/>
    </g>
    <g id="text_10">
     <text style="font-size: 21px; font-family: 'Liberation Serif'; text-anchor: middle" x="431.252364" y="239.587748" transform="rotate(-0 431.252364 239.587748)">5</text>
    </g>
   </g>
   <g id="xtick_8">
    <g id="line2d_12">
     <path d="M 499.849184 236.948548 L 498.027454 238.79178 " style="fill: none; stroke: #000000; stroke-width: 0.8; stroke-linecap: square"/>
    </g>
    <g id="text_11">
     <text style="font-size: 21px; font-family: 'Liberation Serif'; text-anchor: middle" x="495.399804" y="260.791641" transform="rotate(-0 495.399804 260.791641)">10</text>
    </g>
   </g>
   <g id="text_12">
    <text style="font-size: 21px; font-family: 'Liberation Serif'; text-anchor: middle" x="422.866752" y="260.216617" transform="rotate(-341.912962 422.866752 260.216617)">lookback</text>
   </g>
  </g>
  <g id="axis3d_5">
   <g id="line2d_13">
    <path d="M 576.746183 169.744194 L 507.905802 240.39136 " style="fill: none; stroke: #000000; stroke-width: 0.9; stroke-linecap: square"/>
   </g>
   <g id="xtick_9">
    <g id="line2d_14">
     <path d="M 539.460858 206.590363 L 542.64808 207.576268 " style="fill: none; stroke: #000000; stroke-width: 0.8; stroke-linecap: square"/>
    </g>
    <g id="text_13">
     <text style="font-size: 21px; font-family: 'Liberation Serif'; text-anchor: middle" x="547.016206" y="228.238132" transform="rotate(-0 547.016206 228.238132)">5</text>
    </g>
   </g>
   <g id="xtick_10">
    <g id="line2d_15">
     <path d="M 571.689139 173.575464 L 574.781547 174.480644 " style="fill: none; stroke: #000000; stroke-width: 0.8; stroke-linecap: square"/>
    </g>
    <g id="text_14">
     <text style="font-size: 21px; font-family: 'Liberation Serif'; text-anchor: middle" x="578.952103" y="194.903177" transform="rotate(-0 578.952103 194.903177)">10</text>
    </g>
   </g>
   <g id="text_15">
    <text style="font-size: 22px; font-family: 'Liberation Serif'; text-anchor: middle" x="571.922949" y="237.915727" transform="rotate(-0 571.922949 237.915727)">out</text>
   </g>
  </g>
  <g id="axis3d_6">
   <g id="line2d_16">
    <path d="M 576.746183 169.744194 L 581.108613 74.479865 " style="fill: none; stroke: #000000; stroke-width: 0.9; stroke-linecap: square"/>
   </g>
   <g id="xtick_11">
    <g id="line2d_17">
     <path d="M 576.411236 154.193269 L 579.514493 155.076754 " style="fill: none; stroke: #000000; stroke-width: 0.8; stroke-linecap: square"/>
    </g>
    <g id="text_16">
     <text style="font-size: 21px; font-family: 'Liberation Serif'; text-anchor: middle" x="599.789223" y="165.934089" transform="rotate(-0 599.789223 165.934089)">300</text>
    </g>
   </g>
   <g id="xtick_12">
    <g id="line2d_18">
     <path d="M 578.698128 103.714575 L 581.877407 104.55702 " style="fill: none; stroke: #000000; stroke-width: 0.8; stroke-linecap: square"/>
    </g>
    <g id="text_17">
     <text style="font-size: 21px; font-family: 'Liberation Serif'; text-anchor: middle" x="602.61587" y="115.587235" transform="rotate(-0 602.61587 115.587235)">350</text>
    </g>
   </g>
   <g id="text_18">
    <text style="font-size: 22px; font-family: 'Liberation Serif'; text-anchor: middle" x="637.281751" y="116.039922" transform="rotate(-90 637.281751 116.039922)">MAE</text>
   </g>
  </g>
  <g id="axes_2">
   <g id="Poly3DCollection_2">
    <path d="M 473.706121 133.896936 L 492.184027 148.506108 L 480.513804 128.062247 z
" clip-path="url(#p0f02f14226)" style="fill: #46307e; stroke: #ababb6; stroke-width: 1.05"/>
    <path d="M 504.019518 147.905896 L 492.184027 148.506108 L 485.493779 154.489009 z
" clip-path="url(#p0f02f14226)" style="fill: #440154; stroke: #b8b8c2; stroke-width: 1.05"/>
    <path d="M 473.706121 133.896936 L 485.493779 154.489009 L 492.184027 148.506108 z
" clip-path="url(#p0f02f14226)" style="fill: #481769; stroke: #b7b7c1; stroke-width: 1.05"/>
    <path d="M 480.513804 128.062247 L 468.700644 93.547005 L 473.706121 133.896936 z
" clip-path="url(#p0f02f14226)" style="fill: #2e6e8e; stroke: #93939e; stroke-width: 1.167048"/>
    <path d="M 497.382157 153.923653 L 504.019518 147.905896 L 485.493779 154.489009 z
" clip-path="url(#p0f02f14226)" style="fill: #46075a; stroke: #b8b8c2; stroke-width: 1.452867"/>
    <path d="M 478.693259 160.570524 L 485.493779 154.489009 L 473.706121 133.896936 z
" clip-path="url(#p0f02f14226)" style="fill: #481769; stroke: #b7b7c1; stroke-width: 1.592955"/>
    <path d="M 509.372323 157.443315 L 515.94279 151.368209 L 504.019518 147.905896 z
" clip-path="url(#p0f02f14226)" style="fill: #470e61; stroke: #b8b8c2; stroke-width: 1.6"/>
    <path d="M 509.372323 157.443315 L 504.019518 147.905896 L 497.382157 153.923653 z
" clip-path="url(#p0f02f14226)" style="fill: #470e61; stroke: #b8b8c2; stroke-width: 1.6"/>
    <path d="M 473.706121 133.896936 L 468.700644 93.547005 L 461.729106 99.152513 z
" clip-path="url(#p0f02f14226)" style="fill: #21908d; stroke: #8a8a94; stroke-width: 1.6"/>
    <path d="M 497.382157 153.923653 L 485.493779 154.489009 L 490.634661 160.041263 z
" clip-path="url(#p0f02f14226)" style="fill: #46075a; stroke: #b8b8c2; stroke-width: 1.6"/>
    <path d="M 473.706121 133.896936 L 466.785863 139.828111 L 478.693259 160.570524 z
" clip-path="url(#p0f02f14226)" style="fill: #46307e; stroke: #ababb6; stroke-width: 1.6"/>
    <path d="M 490.634661 160.041263 L 485.493779 154.489009 L 478.693259 160.570524 z
" clip-path="url(#p0f02f14226)" style="fill: #440154; stroke: #b8b8c2; stroke-width: 1.6"/>
    <path d="M 521.483275 160.704016 L 527.986101 154.572316 L 515.94279 151.368209 z
" clip-path="url(#p0f02f14226)" style="fill: #471063; stroke: #b8b8c2; stroke-width: 1.05"/>
    <path d="M 515.94279 151.368209 L 509.372323 157.443315 L 521.483275 160.704016 z
" clip-path="url(#p0f02f14226)" style="fill: #470e61; stroke: #b8b8c2; stroke-width: 1.05"/>
    <path d="M 497.382157 153.923653 L 490.634661 160.041263 L 509.372323 157.443315 z
" clip-path="url(#p0f02f14226)" style="fill: #470e61; stroke: #b8b8c2; stroke-width: 1.6"/>
    <path d="M 473.706121 133.896936 L 454.641155 104.851622 L 466.785863 139.828111 z
" clip-path="url(#p0f02f14226)" style="fill: #2e6e8e; stroke: #93939e; stroke-width: 1.6"/>
    <path d="M 478.693259 160.570524 L 466.785863 139.828111 L 471.779718 166.75311 z
" clip-path="url(#p0f02f14226)" style="fill: #481769; stroke: #b7b7c1; stroke-width: 1.592955"/>
    <path d="M 540.145085 157.90532 L 527.986101 154.572316 L 521.483275 160.704016 z
" clip-path="url(#p0f02f14226)" style="fill: #471063; stroke: #b8b8c2; stroke-width: 1.472235"/>
    <path d="M 461.729106 99.152513 L 454.641155 104.851622 L 473.706121 133.896936 z
" clip-path="url(#p0f02f14226)" style="fill: #21908d; stroke: #8a8a94; stroke-width: 1.05"/>
    <path d="M 471.779718 166.75311 L 490.634661 160.041263 L 478.693259 160.570524 z
" clip-path="url(#p0f02f14226)" style="fill: #440154; stroke: #b8b8c2; stroke-width: 1.05"/>
    <path d="M 461.729106 99.152513 L 468.700644 93.547005 L 449.397536 54.759453 z
" clip-path="url(#p0f02f14226)" style="fill: #86d549; stroke: #8a8a94; stroke-width: 1.180152"/>
    <path d="M 509.372323 157.443315 L 490.634661 160.041263 L 502.692306 163.61971 z
" clip-path="url(#p0f02f14226)" style="fill: #470e61; stroke: #b8b8c2; stroke-width: 1.05"/>
    <path d="M 521.483275 160.704016 L 509.372323 157.443315 L 502.692306 163.61971 z
" clip-path="url(#p0f02f14226)" style="fill: #470e61; stroke: #b8b8c2; stroke-width: 1.05"/>
    <path d="M 471.779718 166.75311 L 466.785863 139.828111 L 459.750214 145.858183 z
" clip-path="url(#p0f02f14226)" style="fill: #46307e; stroke: #ababb6; stroke-width: 1.05"/>
    <path d="M 449.397536 54.759453 L 468.700644 93.547005 L 456.567502 49.446505 z
" clip-path="url(#p0f02f14226)" style="fill: #fde725; stroke: #8a8a94; stroke-width: 1.05"/>
    <path d="M 521.483275 160.704016 L 533.711832 164.094969 L 540.145085 157.90532 z
" clip-path="url(#p0f02f14226)" style="fill: #471164; stroke: #b8b8c2; stroke-width: 1.05"/>
    <path d="M 459.750214 145.858183 L 466.785863 139.828111 L 454.641155 104.851622 z
" clip-path="url(#p0f02f14226)" style="fill: #2e6e8e; stroke: #93939e; stroke-width: 1.498879"/>
    <path d="M 483.774267 166.261231 L 490.634661 160.041263 L 471.779718 166.75311 z
" clip-path="url(#p0f02f14226)" style="fill: #46075a; stroke: #b8b8c2; stroke-width: 1.6"/>
    <path d="M 533.711832 164.094969 L 552.684829 153.622675 L 540.145085 157.90532 z
" clip-path="url(#p0f02f14226)" style="fill: #481d6f; stroke: #b4b4be; stroke-width: 1.05"/>
    <path d="M 502.692306 163.61971 L 514.871488 166.938458 L 521.483275 160.704016 z
" clip-path="url(#p0f02f14226)" style="fill: #471063; stroke: #b8b8c2; stroke-width: 1.197777"/>
    <path d="M 461.729106 99.152513 L 449.397536 54.759453 L 454.641155 104.851622 z
" clip-path="url(#p0f02f14226)" style="fill: #86d549; stroke: #8a8a94; stroke-width: 1.180152"/>
    <path d="M 502.692306 163.61971 L 490.634661 160.041263 L 495.899979 169.899949 z
" clip-path="url(#p0f02f14226)" style="fill: #470e61; stroke: #b8b8c2; stroke-width: 1.05"/>
    <path d="M 459.750214 145.858183 L 452.596265 151.989648 L 471.779718 166.75311 z
" clip-path="url(#p0f02f14226)" style="fill: #46307e; stroke: #ababb6; stroke-width: 1.6"/>
    <path d="M 495.899979 169.899949 L 490.634661 160.041263 L 483.774267 166.261231 z
" clip-path="url(#p0f02f14226)" style="fill: #470e61; stroke: #b8b8c2; stroke-width: 1.6"/>
    <path d="M 527.170251 170.388843 L 533.711832 164.094969 L 521.483275 160.704016 z
" clip-path="url(#p0f02f14226)" style="fill: #471164; stroke: #b8b8c2; stroke-width: 1.6"/>
    <path d="M 471.779718 166.75311 L 452.596265 151.989648 L 464.750315 173.039308 z
" clip-path="url(#p0f02f14226)" style="fill: #481769; stroke: #b7b7c1; stroke-width: 1.6"/>
    <path d="M 514.871488 166.938458 L 527.170251 170.388843 L 521.483275 160.704016 z
" clip-path="url(#p0f02f14226)" style="fill: #471063; stroke: #b8b8c2; stroke-width: 1.6"/>
    <path d="M 454.641155 104.851622 L 447.433851 110.646697 L 459.750214 145.858183 z
" clip-path="url(#p0f02f14226)" style="fill: #21908d; stroke: #8a8a94; stroke-width: 1.6"/>
    <path d="M 483.774267 166.261231 L 471.779718 166.75311 L 476.798119 172.586149 z
" clip-path="url(#p0f02f14226)" style="fill: #46075a; stroke: #b8b8c2; stroke-width: 1.6"/>
    <path d="M 546.302057 159.829286 L 552.684829 153.622675 L 533.711832 164.094969 z
" clip-path="url(#p0f02f14226)" style="fill: #482979; stroke: #afafb9; stroke-width: 1.6"/>
    <path d="M 502.692306 163.61971 L 495.899979 169.899949 L 514.871488 166.938458 z
" clip-path="url(#p0f02f14226)" style="fill: #470e61; stroke: #b8b8c2; stroke-width: 1.6"/>
    <path d="M 476.798119 172.586149 L 471.779718 166.75311 L 464.750315 173.039308 z
" clip-path="url(#p0f02f14226)" style="fill: #440154; stroke: #b8b8c2; stroke-width: 1.6"/>
    <path d="M 483.774267 166.261231 L 476.798119 172.586149 L 495.899979 169.899949 z
" clip-path="url(#p0f02f14226)" style="fill: #470e61; stroke: #b8b8c2; stroke-width: 1.6"/>
    <path d="M 454.641155 104.851622 L 449.397536 54.759453 L 442.106172 60.162357 z
" clip-path="url(#p0f02f14226)" style="fill: #fde725; stroke: #8a8a94; stroke-width: 1.6"/>
    <path d="M 514.871488 166.938458 L 495.899979 169.899949 L 508.14798 173.278246 z
" clip-path="url(#p0f02f14226)" style="fill: #471063; stroke: #b8b8c2; stroke-width: 1.6"/>
    <path d="M 440.104155 116.540184 L 452.596265 151.989648 L 459.750214 145.858183 z
" clip-path="url(#p0f02f14226)" style="fill: #2e6e8e; stroke: #93939e; stroke-width: 1.6"/>
    <path d="M 464.750315 173.039308 L 452.596265 151.989648 L 457.602113 179.431744 z
" clip-path="url(#p0f02f14226)" style="fill: #481769; stroke: #b7b7c1; stroke-width: 1.6"/>
    <path d="M 527.170251 170.388843 L 514.871488 166.938458 L 508.14798 173.278246 z
" clip-path="url(#p0f02f14226)" style="fill: #471063; stroke: #b8b8c2; stroke-width: 1.6"/>
    <path d="M 459.750214 145.858183 L 447.433851 110.646697 L 440.104155 116.540184 z
" clip-path="url(#p0f02f14226)" style="fill: #21908d; stroke: #8a8a94; stroke-width: 1.6"/>
    <path d="M 533.711832 164.094969 L 527.170251 170.388843 L 539.810878 166.141312 z
" clip-path="url(#p0f02f14226)" style="fill: #481d6f; stroke: #b4b4be; stroke-width: 1.6"/>
    <path d="M 533.711832 164.094969 L 539.810878 166.141312 L 546.302057 159.829286 z
" clip-path="url(#p0f02f14226)" style="fill: #482979; stroke: #afafb9; stroke-width: 1.6"/>
    <path d="M 464.750315 173.039308 L 457.602113 179.431744 L 476.798119 172.586149 z
" clip-path="url(#p0f02f14226)" style="fill: #440154; stroke: #b8b8c2; stroke-width: 1.6"/>
    <path d="M 546.302057 159.829286 L 559.184433 153.487915 L 552.684829 153.622675 z
" clip-path="url(#p0f02f14226)" style="fill: #424186; stroke: #a4a4af; stroke-width: 1.6"/>
    <path d="M 552.684829 153.622675 L 559.184433 153.487915 L 565.519268 147.275778 z
" clip-path="url(#p0f02f14226)" style="fill: #3c4f8a; stroke: #9f9fa9; stroke-width: 1.6"/>
    <path d="M 454.641155 104.851622 L 434.690301 65.657522 L 447.433851 110.646697 z
" clip-path="url(#p0f02f14226)" style="fill: #86d549; stroke: #8a8a94; stroke-width: 1.472235"/>
    <path d="M 495.899979 169.899949 L 476.798119 172.586149 L 488.992483 176.286674 z
" clip-path="url(#p0f02f14226)" style="fill: #470e61; stroke: #b8b8c2; stroke-width: 1.6"/>
    <path d="M 457.602113 179.431744 L 452.596265 151.989648 L 445.321005 158.225085 z
" clip-path="url(#p0f02f14226)" style="fill: #46307e; stroke: #ababb6; stroke-width: 1.452867"/>
    <path d="M 442.106172 60.162357 L 434.690301 65.657522 L 454.641155 104.851622 z
" clip-path="url(#p0f02f14226)" style="fill: #fde725; stroke: #8a8a94; stroke-width: 1.592955"/>
    <path d="M 508.14798 173.278246 L 520.517582 176.789599 L 527.170251 170.388843 z
" clip-path="url(#p0f02f14226)" style="fill: #471164; stroke: #b8b8c2; stroke-width: 1.6"/>
    <path d="M 495.899979 169.899949 L 501.309894 179.726073 L 508.14798 173.278246 z
" clip-path="url(#p0f02f14226)" style="fill: #471063; stroke: #b8b8c2; stroke-width: 1.6"/>
    <path d="M 445.321005 158.225085 L 452.596265 151.989648 L 440.104155 116.540184 z
" clip-path="url(#p0f02f14226)" style="fill: #2e6e8e; stroke: #93939e; stroke-width: 1.452867"/>
    <path d="M 476.798119 172.586149 L 457.602113 179.431744 L 469.70326 179.018695 z
" clip-path="url(#p0f02f14226)" style="fill: #46075a; stroke: #b8b8c2; stroke-width: 1.592955"/>
    <path d="M 488.992483 176.286674 L 501.309894 179.726073 L 495.899979 169.899949 z
" clip-path="url(#p0f02f14226)" style="fill: #470e61; stroke: #b8b8c2; stroke-width: 1.592955"/>
    <path d="M 539.810878 166.141312 L 559.184433 153.487915 L 546.302057 159.829286 z
" clip-path="url(#p0f02f14226)" style="fill: #424186; stroke: #a4a4af; stroke-width: 1.452867"/>
    <path d="M 447.433851 110.646697 L 434.690301 65.657522 L 440.104155 116.540184 z
" clip-path="url(#p0f02f14226)" style="fill: #86d549; stroke: #8a8a94; stroke-width: 1.6"/>
    <path d="M 508.14798 173.278246 L 501.309894 179.726073 L 520.517582 176.789599 z
" clip-path="url(#p0f02f14226)" style="fill: #471063; stroke: #b8b8c2; stroke-width: 1.6"/>
    <path d="M 476.798119 172.586149 L 481.966866 182.782615 L 488.992483 176.286674 z
" clip-path="url(#p0f02f14226)" style="fill: #470e61; stroke: #b8b8c2; stroke-width: 1.6"/>
    <path d="M 445.321005 158.225085 L 437.979715 167.570626 L 457.602113 179.431744 z
" clip-path="url(#p0f02f14226)" style="fill: #472d7b; stroke: #adadb7; stroke-width: 1.6"/>
    <path d="M 527.170251 170.388843 L 520.517582 176.789599 L 533.208507 172.561461 z
" clip-path="url(#p0f02f14226)" style="fill: #481d6f; stroke: #b4b4be; stroke-width: 1.6"/>
    <path d="M 533.208507 172.561461 L 539.810878 166.141312 L 527.170251 170.388843 z
" clip-path="url(#p0f02f14226)" style="fill: #482979; stroke: #afafb9; stroke-width: 1.6"/>
    <path d="M 469.70326 179.018695 L 481.966866 182.782615 L 476.798119 172.586149 z
" clip-path="url(#p0f02f14226)" style="fill: #470e61; stroke: #b8b8c2; stroke-width: 1.6"/>
    <path d="M 457.602113 179.431744 L 437.979715 167.570626 L 450.332075 185.933136 z
" clip-path="url(#p0f02f14226)" style="fill: #471164; stroke: #b8b8c2; stroke-width: 1.6"/>
    <path d="M 440.104155 116.540184 L 432.648921 122.534609 L 445.321005 158.225085 z
" clip-path="url(#p0f02f14226)" style="fill: #21908d; stroke: #8a8a94; stroke-width: 1.6"/>
    <path d="M 457.602113 179.431744 L 462.486635 185.56164 L 469.70326 179.018695 z
" clip-path="url(#p0f02f14226)" style="fill: #46075a; stroke: #b8b8c2; stroke-width: 1.6"/>
    <path d="M 481.966866 182.782615 L 501.309894 179.726073 L 488.992483 176.286674 z
" clip-path="url(#p0f02f14226)" style="fill: #470e61; stroke: #b8b8c2; stroke-width: 1.6"/>
    <path d="M 450.332075 185.933136 L 462.486635 185.56164 L 457.602113 179.431744 z
" clip-path="url(#p0f02f14226)" style="fill: #440154; stroke: #b8b8c2; stroke-width: 1.6"/>
    <path d="M 552.740966 159.806582 L 559.184433 153.487915 L 539.810878 166.141312 z
" clip-path="url(#p0f02f14226)" style="fill: #3c4f8a; stroke: #9f9fa9; stroke-width: 1.6"/>
    <path d="M 501.309894 179.726073 L 513.750971 183.299983 L 520.517582 176.789599 z
" clip-path="url(#p0f02f14226)" style="fill: #471164; stroke: #b8b8c2; stroke-width: 1.6"/>
    <path d="M 445.321005 158.225085 L 432.648921 122.534609 L 437.979715 167.570626 z
" clip-path="url(#p0f02f14226)" style="fill: #2f6b8e; stroke: #95959f; stroke-width: 1.6"/>
    <path d="M 469.70326 179.018695 L 462.486635 185.56164 L 481.966866 182.782615 z
" clip-path="url(#p0f02f14226)" style="fill: #470e61; stroke: #b8b8c2; stroke-width: 1.6"/>
    <path d="M 440.104155 116.540184 L 434.690301 65.657522 L 427.146705 71.24733 z
" clip-path="url(#p0f02f14226)" style="fill: #fde725; stroke: #8a8a94; stroke-width: 1.6"/>
    <path d="M 437.979715 167.570626 L 442.937059 192.546291 L 450.332075 185.933136 z
" clip-path="url(#p0f02f14226)" style="fill: #471164; stroke: #b8b8c2; stroke-width: 1.6"/>
    <path d="M 494.354276 186.284724 L 501.309894 179.726073 L 481.966866 182.782615 z
" clip-path="url(#p0f02f14226)" style="fill: #471063; stroke: #b8b8c2; stroke-width: 1.30548"/>
    <path d="M 513.750971 183.299983 L 501.309894 179.726073 L 494.354276 186.284724 z
" clip-path="url(#p0f02f14226)" style="fill: #471063; stroke: #b8b8c2; stroke-width: 1.369167"/>
    <path d="M 526.492061 179.092537 L 520.517582 176.789599 L 513.750971 183.299983 z
" clip-path="url(#p0f02f14226)" style="fill: #481d6f; stroke: #b4b4be; stroke-width: 1.30548"/>
    <path d="M 533.208507 172.561461 L 520.517582 176.789599 L 526.492061 179.092537 z
" clip-path="url(#p0f02f14226)" style="fill: #482979; stroke: #afafb9; stroke-width: 1.369167"/>
    <path d="M 450.332075 185.933136 L 442.937059 192.546291 L 462.486635 185.56164 z
" clip-path="url(#p0f02f14226)" style="fill: #440154; stroke: #b8b8c2; stroke-width: 1.30548"/>
    <path d="M 533.208507 172.561461 L 546.186048 166.234541 L 539.810878 166.141312 z
" clip-path="url(#p0f02f14226)" style="fill: #424186; stroke: #a4a4af; stroke-width: 1.369167"/>
    <path d="M 539.810878 166.141312 L 546.186048 166.234541 L 552.740966 159.806582 z
" clip-path="url(#p0f02f14226)" style="fill: #3c4f8a; stroke: #9f9fa9; stroke-width: 1.369167"/>
    <path d="M 437.979715 167.570626 L 432.648921 122.534609 L 425.064897 128.632589 z
" clip-path="url(#p0f02f14226)" style="fill: #228d8d; stroke: #8a8a94; stroke-width: 1.397823"/>
    <path d="M 419.472057 76.934248 L 432.648921 122.534609 L 440.104155 116.540184 z
" clip-path="url(#p0f02f14226)" style="fill: #86d549; stroke: #8a8a94; stroke-width: 1.6"/>
    <path d="M 430.463592 174.038799 L 442.937059 192.546291 L 437.979715 167.570626 z
" clip-path="url(#p0f02f14226)" style="fill: #482878; stroke: #afafb9; stroke-width: 1.6"/>
    <path d="M 481.966866 182.782615 L 462.486635 185.56164 L 474.82007 189.390597 z
" clip-path="url(#p0f02f14226)" style="fill: #470e61; stroke: #b8b8c2; stroke-width: 1.32597"/>
    <path d="M 440.104155 116.540184 L 427.146705 71.24733 L 419.472057 76.934248 z
" clip-path="url(#p0f02f14226)" style="fill: #fde725; stroke: #8a8a94; stroke-width: 1.3862"/>
    <path d="M 494.354276 186.284724 L 506.867466 189.922834 L 513.750971 183.299983 z
" clip-path="url(#p0f02f14226)" style="fill: #471164; stroke: #b8b8c2; stroke-width: 1.555213"/>
    <path d="M 481.966866 182.782615 L 487.27807 192.95708 L 494.354276 186.284724 z
" clip-path="url(#p0f02f14226)" style="fill: #471063; stroke: #b8b8c2; stroke-width: 1.492128"/>
    <path d="M 462.486635 185.56164 L 442.937059 192.546291 L 455.145082 192.217851 z
" clip-path="url(#p0f02f14226)" style="fill: #46075a; stroke: #b8b8c2; stroke-width: 1.05"/>
    <path d="M 526.492061 179.092537 L 513.750971 183.299983 L 506.867466 189.922834 z
" clip-path="url(#p0f02f14226)" style="fill: #481d6f; stroke: #b4b4be; stroke-width: 1.05"/>
    <path d="M 474.82007 189.390597 L 487.27807 192.95708 L 481.966866 182.782615 z
" clip-path="url(#p0f02f14226)" style="fill: #470e61; stroke: #b8b8c2; stroke-width: 1.05"/>
    <path d="M 526.492061 179.092537 L 546.186048 166.234541 L 533.208507 172.561461 z
" clip-path="url(#p0f02f14226)" style="fill: #424186; stroke: #a4a4af; stroke-width: 1.05"/>
    <path d="M 437.979715 167.570626 L 417.348716 134.83683 L 430.463592 174.038799 z
" clip-path="url(#p0f02f14226)" style="fill: #31678e; stroke: #9696a0; stroke-width: 1.167048"/>
    <path d="M 425.064897 128.632589 L 417.348716 134.83683 L 437.979715 167.570626 z
" clip-path="url(#p0f02f14226)" style="fill: #228d8d; stroke: #8a8a94; stroke-width: 1.05"/>
    <path d="M 487.27807 192.95708 L 506.867466 189.922834 L 494.354276 186.284724 z
" clip-path="url(#p0f02f14226)" style="fill: #471063; stroke: #b8b8c2; stroke-width: 1.167048"/>
    <path d="M 474.82007 189.390597 L 462.486635 185.56164 L 467.548934 196.113547 z
" clip-path="url(#p0f02f14226)" style="fill: #470e61; stroke: #b8b8c2; stroke-width: 1.05"/>
    <path d="M 430.463592 174.038799 L 422.735705 177.582363 L 442.937059 192.546291 z
" clip-path="url(#p0f02f14226)" style="fill: #472d7b; stroke: #adadb7; stroke-width: 1.167048"/>
    <path d="M 467.548934 196.113547 L 462.486635 185.56164 L 455.145082 192.217851 z
" clip-path="url(#p0f02f14226)" style="fill: #470e61; stroke: #b8b8c2; stroke-width: 1.05"/>
    <path d="M 432.648921 122.534609 L 411.66291 82.720829 L 425.064897 128.632589 z
" clip-path="url(#p0f02f14226)" style="fill: #86d549; stroke: #8a8a94; stroke-width: 1.452867"/>
    <path d="M 442.937059 192.546291 L 422.735705 177.582363 L 435.413814 199.274119 z
" clip-path="url(#p0f02f14226)" style="fill: #481769; stroke: #b7b7c1; stroke-width: 1.592955"/>
    <path d="M 442.937059 192.546291 L 447.67533 198.990294 L 455.145082 192.217851 z
" clip-path="url(#p0f02f14226)" style="fill: #46075a; stroke: #b8b8c2; stroke-width: 1.452867"/>
    <path d="M 526.492061 179.092537 L 506.867466 189.922834 L 519.658559 185.737437 z
" clip-path="url(#p0f02f14226)" style="fill: #482979; stroke: #afafb9; stroke-width: 1.592955"/>
    <path d="M 474.82007 189.390597 L 467.548934 196.113547 L 487.27807 192.95708 z
" clip-path="url(#p0f02f14226)" style="fill: #470e61; stroke: #b8b8c2; stroke-width: 1.05"/>
    <path d="M 435.413814 199.274119 L 447.67533 198.990294 L 442.937059 192.546291 z
" clip-path="url(#p0f02f14226)" style="fill: #440154; stroke: #b8b8c2; stroke-width: 1.05"/>
    <path d="M 526.492061 179.092537 L 539.516761 172.774653 L 546.186048 166.234541 z
" clip-path="url(#p0f02f14226)" style="fill: #3c4f8a; stroke: #9f9fa9; stroke-width: 1.05"/>
    <path d="M 419.472057 76.934248 L 411.66291 82.720829 L 432.648921 122.534609 z
" clip-path="url(#p0f02f14226)" style="fill: #fde725; stroke: #8a8a94; stroke-width: 1.05"/>
    <path d="M 499.864012 196.661093 L 506.867466 189.922834 L 487.27807 192.95708 z
" clip-path="url(#p0f02f14226)" style="fill: #471164; stroke: #b8b8c2; stroke-width: 1.05"/>
    <path d="M 417.348716 134.83683 L 422.735705 177.582363 L 430.463592 174.038799 z
" clip-path="url(#p0f02f14226)" style="fill: #2f6b8e; stroke: #95959f; stroke-width: 1.167048"/>
    <path d="M 455.145082 192.217851 L 447.67533 198.990294 L 467.548934 196.113547 z
" clip-path="url(#p0f02f14226)" style="fill: #470e61; stroke: #b8b8c2; stroke-width: 1.05"/>
    <path d="M 487.27807 192.95708 L 467.548934 196.113547 L 480.078112 199.746126 z
" clip-path="url(#p0f02f14226)" style="fill: #471063; stroke: #b8b8c2; stroke-width: 1.167048"/>
    <path d="M 425.064897 128.632589 L 411.66291 82.720829 L 417.348716 134.83683 z
" clip-path="url(#p0f02f14226)" style="fill: #86d549; stroke: #8a8a94; stroke-width: 1.6"/>
    <path d="M 422.735705 177.582363 L 427.758976 206.119626 L 435.413814 199.274119 z
" clip-path="url(#p0f02f14226)" style="fill: #481769; stroke: #b7b7c1; stroke-width: 1.6"/>
    <path d="M 512.704914 192.499166 L 506.867466 189.922834 L 499.864012 196.661093 z
" clip-path="url(#p0f02f14226)" style="fill: #481d6f; stroke: #b4b4be; stroke-width: 1.6"/>
    <path d="M 519.658559 185.737437 L 506.867466 189.922834 L 512.704914 192.499166 z
" clip-path="url(#p0f02f14226)" style="fill: #482979; stroke: #afafb9; stroke-width: 1.6"/>
    <path d="M 435.413814 199.274119 L 427.758976 206.119626 L 447.67533 198.990294 z
" clip-path="url(#p0f02f14226)" style="fill: #440154; stroke: #b8b8c2; stroke-width: 1.519501"/>
    <path d="M 519.658559 185.737437 L 532.730087 179.429879 L 526.492061 179.092537 z
" clip-path="url(#p0f02f14226)" style="fill: #424186; stroke: #a4a4af; stroke-width: 1.570032"/>
    <path d="M 532.730087 179.429879 L 539.516761 172.774653 L 526.492061 179.092537 z
" clip-path="url(#p0f02f14226)" style="fill: #3c4f8a; stroke: #9f9fa9; stroke-width: 1.555213"/>
    <path d="M 487.27807 192.95708 L 492.737444 203.517802 L 499.864012 196.661093 z
" clip-path="url(#p0f02f14226)" style="fill: #471164; stroke: #b8b8c2; stroke-width: 1.492128"/>
    <path d="M 480.078112 199.746126 L 492.737444 203.517802 L 487.27807 192.95708 z
" clip-path="url(#p0f02f14226)" style="fill: #471063; stroke: #b8b8c2; stroke-width: 1.30548"/>
    <path d="M 409.496894 141.150135 L 422.735705 177.582363 L 417.348716 134.83683 z
" clip-path="url(#p0f02f14226)" style="fill: #21908d; stroke: #8a8a94; stroke-width: 1.369167"/>
    <path d="M 467.548934 196.113547 L 447.67533 198.990294 L 460.150185 202.954488 z
" clip-path="url(#p0f02f14226)" style="fill: #470e61; stroke: #b8b8c2; stroke-width: 1.555213"/>
    <path d="M 414.942988 184.261299 L 427.758976 206.119626 L 422.735705 177.582363 z
" clip-path="url(#p0f02f14226)" style="fill: #46307e; stroke: #ababb6; stroke-width: 1.492128"/>
    <path d="M 467.548934 196.113547 L 472.751128 206.654949 L 480.078112 199.746126 z
" clip-path="url(#p0f02f14226)" style="fill: #471063; stroke: #b8b8c2; stroke-width: 1.30548"/>
    <path d="M 447.67533 198.990294 L 427.758976 206.119626 L 440.073989 205.882041 z
" clip-path="url(#p0f02f14226)" style="fill: #46075a; stroke: #b8b8c2; stroke-width: 1.369167"/>
    <path d="M 499.864012 196.661093 L 492.737444 203.517802 L 512.704914 192.499166 z
" clip-path="url(#p0f02f14226)" style="fill: #481d6f; stroke: #b4b4be; stroke-width: 1.6"/>
    <path d="M 460.150185 202.954488 L 472.751128 206.654949 L 467.548934 196.113547 z
" clip-path="url(#p0f02f14226)" style="fill: #470e61; stroke: #b8b8c2; stroke-width: 1.6"/>
    <path d="M 512.704914 192.499166 L 532.730087 179.429879 L 519.658559 185.737437 z
" clip-path="url(#p0f02f14226)" style="fill: #424186; stroke: #a4a4af; stroke-width: 1.6"/>
    <path d="M 417.348716 134.83683 L 411.66291 82.720829 L 403.7157 88.609716 z
" clip-path="url(#p0f02f14226)" style="fill: #fde725; stroke: #8a8a94; stroke-width: 1.6"/>
    <path d="M 422.735705 177.582363 L 401.505822 147.575404 L 414.942988 184.261299 z
" clip-path="url(#p0f02f14226)" style="fill: #2e6e8e; stroke: #93939e; stroke-width: 1.555213"/>
    <path d="M 480.078112 199.746126 L 472.751128 206.654949 L 492.737444 203.517802 z
" clip-path="url(#p0f02f14226)" style="fill: #471063; stroke: #b8b8c2; stroke-width: 1.492128"/>
    <path d="M 409.496894 141.150135 L 401.505822 147.575404 L 422.735705 177.582363 z
" clip-path="url(#p0f02f14226)" style="fill: #21908d; stroke: #8a8a94; stroke-width: 1.555213"/>
    <path d="M 447.67533 198.990294 L 452.620432 209.916557 L 460.150185 202.954488 z
" clip-path="url(#p0f02f14226)" style="fill: #470e61; stroke: #b8b8c2; stroke-width: 1.492128"/>
    <path d="M 440.073989 205.882041 L 452.620432 209.916557 L 447.67533 198.990294 z
" clip-path="url(#p0f02f14226)" style="fill: #470e61; stroke: #b8b8c2; stroke-width: 1.369167"/>
    <path d="M 417.348716 134.83683 L 395.62673 94.603647 L 409.496894 141.150135 z
" clip-path="url(#p0f02f14226)" style="fill: #86d549; stroke: #8a8a94; stroke-width: 1.30548"/>
    <path d="M 492.737444 203.517802 L 505.627929 199.38083 L 512.704914 192.499166 z
" clip-path="url(#p0f02f14226)" style="fill: #482979; stroke: #afafb9; stroke-width: 1.30548"/>
    <path d="M 460.150185 202.954488 L 452.620432 209.916557 L 472.751128 206.654949 z
" clip-path="url(#p0f02f14226)" style="fill: #470e61; stroke: #b8b8c2; stroke-width: 1.369167"/>
    <path d="M 512.704914 192.499166 L 525.822898 186.203285 L 532.730087 179.429879 z
" clip-path="url(#p0f02f14226)" style="fill: #3c4f8a; stroke: #9f9fa9; stroke-width: 1.6"/>
    <path d="M 403.7157 88.609716 L 395.62673 94.603647 L 417.348716 134.83683 z
" clip-path="url(#p0f02f14226)" style="fill: #fde725; stroke: #8a8a94; stroke-width: 1.6"/>
    <path d="M 492.737444 203.517802 L 472.751128 206.654949 L 485.484489 210.496114 z
" clip-path="url(#p0f02f14226)" style="fill: #471164; stroke: #b8b8c2; stroke-width: 1.492128"/>
    <path d="M 505.627929 199.38083 L 492.737444 203.517802 L 485.484489 210.496114 z
" clip-path="url(#p0f02f14226)" style="fill: #481d6f; stroke: #b4b4be; stroke-width: 1.555213"/>
    <path d="M 472.751128 206.654949 L 452.620432 209.916557 L 465.293725 213.686746 z
" clip-path="url(#p0f02f14226)" style="fill: #471063; stroke: #b8b8c2; stroke-width: 1.6"/>
    <path d="M 395.62673 94.603647 L 401.505822 147.575404 L 409.496894 141.150135 z
" clip-path="url(#p0f02f14226)" style="fill: #86d549; stroke: #8a8a94; stroke-width: 1.6"/>
    <path d="M 512.704914 192.499166 L 505.627929 199.38083 L 518.791956 193.098048 z
" clip-path="url(#p0f02f14226)" style="fill: #424186; stroke: #a4a4af; stroke-width: 1.492128"/>
    <path d="M 518.791956 193.098048 L 525.822898 186.203285 L 512.704914 192.499166 z
" clip-path="url(#p0f02f14226)" style="fill: #3c4f8a; stroke: #9f9fa9; stroke-width: 1.555213"/>
    <path d="M 485.484489 210.496114 L 472.751128 206.654949 L 478.102686 219.132451 z
" clip-path="url(#p0f02f14226)" style="fill: #470e61; stroke: #b8b8c2; stroke-width: 1.492128"/>
    <path d="M 478.102686 219.132451 L 472.751128 206.654949 L 465.293725 213.686746 z
" clip-path="url(#p0f02f14226)" style="fill: #470e61; stroke: #b8b8c2; stroke-width: 1.555213"/>
    <path d="M 485.484489 210.496114 L 498.424293 206.385649 L 505.627929 199.38083 z
" clip-path="url(#p0f02f14226)" style="fill: #482979; stroke: #afafb9; stroke-width: 1.6"/>
    <path d="M 478.102686 219.132451 L 498.424293 206.385649 L 485.484489 210.496114 z
" clip-path="url(#p0f02f14226)" style="fill: #481b6d; stroke: #b5b5bf; stroke-width: 1.6"/>
    <path d="M 387.392175 100.705456 L 401.505822 147.575404 L 395.62673 94.603647 z
" clip-path="url(#p0f02f14226)" style="fill: #fde725; stroke: #8a8a94; stroke-width: 1.6"/>
    <path d="M 498.424293 206.385649 L 511.585849 203.239209 L 505.627929 199.38083 z
" clip-path="url(#p0f02f14226)" style="fill: #433e85; stroke: #a6a6b0; stroke-width: 1.6"/>
    <path d="M 505.627929 199.38083 L 511.585849 203.239209 L 518.791956 193.098048 z
" clip-path="url(#p0f02f14226)" style="fill: #3e4a89; stroke: #a1a1ab; stroke-width: 1.6"/>
    <path d="M 478.102686 219.132451 L 491.078942 215.583475 L 498.424293 206.385649 z
" clip-path="url(#p0f02f14226)" style="fill: #482475; stroke: #b1b1bb; stroke-width: 1.6"/>
    <path d="M 491.078942 215.583475 L 511.585849 203.239209 L 498.424293 206.385649 z
" clip-path="url(#p0f02f14226)" style="fill: #443b84; stroke: #a7a7b1; stroke-width: 1.6"/>
    <path d="M 504.282762 212.492094 L 511.585849 203.239209 L 491.078942 215.583475 z
" clip-path="url(#p0f02f14226)" style="fill: #424186; stroke: #a4a4af; stroke-width: 1.6"/>
   </g>
  </g>
  <g id="axes_3">
   <g id="patch_10">
    <path d="M 42.5 538.4 L 224.4 538.4 L 224.4 365.9 L 42.5 365.9 z
" style="fill: #ffffff"/>
   </g>
   <g id="QuadMesh_1">
    <path d="M 42.5 538.4 L 60.69 538.4 L 60.69 521.15 L 42.5 521.15 L 42.5 538.4 " clip-path="url(#p3ab12170b0)" style="fill: #440154; stroke: #ffffff; stroke-opacity: 0.07; stroke-width: 0.5"/>
    <path d="M 60.69 538.4 L 78.88 538.4 L 78.88 521.15 L 60.69 521.15 L 60.69 538.4 " clip-path="url(#p3ab12170b0)" style="fill: #440154; stroke: #ffffff; stroke-opacity: 0.07; stroke-width: 0.5"/>
    <path d="M 78.88 538.4 L 97.07 538.4 L 97.07 521.15 L 78.88 521.15 L 78.88 538.4 " clip-path="url(#p3ab12170b0)" style="fill: #440154; stroke: #ffffff; stroke-opacity: 0.07; stroke-width: 0.5"/>
    <path d="M 97.07 538.4 L 115.26 538.4 L 115.26 521.15 L 97.07 521.15 L 97.07 538.4 " clip-path="url(#p3ab12170b0)" style="fill: #440154; stroke: #ffffff; stroke-opacity: 0.07; stroke-width: 0.5"/>
    <path d="M 115.26 538.4 L 133.45 538.4 L 133.45 521.15 L 115.26 521.15 L 115.26 538.4 " clip-path="url(#p3ab12170b0)" style="fill: #440154; stroke: #ffffff; stroke-opacity: 0.07; stroke-width: 0.5"/>
    <path d="M 133.45 538.4 L 151.64 538.4 L 151.64 521.15 L 133.45 521.15 L 133.45 538.4 " clip-path="url(#p3ab12170b0)" style="fill: #440154; stroke: #ffffff; stroke-opacity: 0.07; stroke-width: 0.5"/>
    <path d="M 151.64 538.4 L 169.83 538.4 L 169.83 521.15 L 151.64 521.15 L 151.64 538.4 " clip-path="url(#p3ab12170b0)" style="fill: #440154; stroke: #ffffff; stroke-opacity: 0.07; stroke-width: 0.5"/>
    <path d="M 169.83 538.4 L 188.02 538.4 L 188.02 521.15 L 169.83 521.15 L 169.83 538.4 " clip-path="url(#p3ab12170b0)" style="fill: #440154; stroke: #ffffff; stroke-opacity: 0.07; stroke-width: 0.5"/>
    <path d="M 188.02 538.4 L 206.21 538.4 L 206.21 521.15 L 188.02 521.15 L 188.02 538.4 " clip-path="url(#p3ab12170b0)" style="fill: #440154; stroke: #ffffff; stroke-opacity: 0.07; stroke-width: 0.5"/>
    <path d="M 206.21 538.4 L 224.4 538.4 L 224.4 521.15 L 206.21 521.15 L 206.21 538.4 " clip-path="url(#p3ab12170b0)" style="fill: #440154; stroke: #ffffff; stroke-opacity: 0.07; stroke-width: 0.5"/>
    <path d="M 42.5 521.15 L 60.69 521.15 L 60.69 503.9 L 42.5 503.9 L 42.5 521.15 " clip-path="url(#p3ab12170b0)" style="fill: #481769; stroke: #ffffff; stroke-opacity: 0.07; stroke-width: 0.5"/>
    <path d="M 60.69 521.15 L 78.88 521.15 L 78.88 503.9 L 60.69 503.9 L 60.69 521.15 " clip-path="url(#p3ab12170b0)" style="fill: #481769; stroke: #ffffff; stroke-opacity: 0.07; stroke-width: 0.5"/>
    <path d="M 78.88 521.15 L 97.07 521.15 L 97.07 503.9 L 78.88 503.9 L 78.88 521.15 " clip-path="url(#p3ab12170b0)" style="fill: #481769; stroke: #ffffff; stroke-opacity: 0.07; stroke-width: 0.5"/>
    <path d="M 97.07 521.15 L 115.26 521.15 L 115.26 503.9 L 97.07 503.9 L 97.07 521.15 " clip-path="url(#p3ab12170b0)" style="fill: #481769; stroke: #ffffff; stroke-opacity: 0.07; stroke-width: 0.5"/>
    <path d="M 115.26 521.15 L 133.45 521.15 L 133.45 503.9 L 115.26 503.9 L 115.26 521.15 " clip-path="url(#p3ab12170b0)" style="fill: #481769; stroke: #ffffff; stroke-opacity: 0.07; stroke-width: 0.5"/>
    <path d="M 133.45 521.15 L 151.64 521.15 L 151.64 503.9 L 133.45 503.9 L 133.45 521.15 " clip-path="url(#p3ab12170b0)" style="fill: #481769; stroke: #ffffff; stroke-opacity: 0.07; stroke-width: 0.5"/>
    <path d="M 151.64 521.15 L 169.83 521.15 L 169.83 503.9 L 151.64 503.9 L 151.64 521.15 " clip-path="url(#p3ab12170b0)" style="fill: #481769; stroke: #ffffff; stroke-opacity: 0.07; stroke-width: 0.5"/>
    <path d="M 169.83 521.15 L 188.02 521.15 L 188.02 503.9 L 169.83 503.9 L 169.83 521.15 " clip-path="url(#p3ab12170b0)" style="fill: #481769; stroke: #ffffff; stroke-opacity: 0.07; stroke-width: 0.5"/>
    <path d="M 188.02 521.15 L 206.21 521.15 L 206.21 503.9 L 188.02 503.9 L 188.02 521.15 " clip-path="url(#p3ab12170b0)" style="fill: #481769; stroke: #ffffff; stroke-opacity: 0.07; stroke-width: 0.5"/>
    <path d="M 206.21 521.15 L 224.4 521.15 L 224.4 503.9 L 206.21 503.9 L 206.21 521.15 " clip-path="url(#p3ab12170b0)" style="fill: #481769; stroke: #ffffff; stroke-opacity: 0.07; stroke-width: 0.5"/>
    <path d="M 42.5 503.9 L 60.69 503.9 L 60.69 486.65 L 42.5 486.65 L 42.5 503.9 " clip-path="url(#p3ab12170b0)" style="fill: #482475; stroke: #ffffff; stroke-opacity: 0.07; stroke-width: 0.5"/>
    <path d="M 60.69 503.9 L 78.88 503.9 L 78.88 486.65 L 60.69 486.65 L 60.69 503.9 " clip-path="url(#p3ab12170b0)" style="fill: #482475; stroke: #ffffff; stroke-opacity: 0.07; stroke-width: 0.5"/>
    <path d="M 78.88 503.9 L 97.07 503.9 L 97.07 486.65 L 78.88 486.65 L 78.88 503.9 " clip-path="url(#p3ab12170b0)" style="fill: #472a7a; stroke: #ffffff; stroke-opacity: 0.07; stroke-width: 0.5"/>
    <path d="M 97.07 503.9 L 115.26 503.9 L 115.26 486.65 L 97.07 486.65 L 97.07 503.9 " clip-path="url(#p3ab12170b0)" style="fill: #472a7a; stroke: #ffffff; stroke-opacity: 0.07; stroke-width: 0.5"/>
    <path d="M 115.26 503.9 L 133.45 503.9 L 133.45 486.65 L 115.26 486.65 L 115.26 503.9 " clip-path="url(#p3ab12170b0)" style="fill: #472a7a; stroke: #ffffff; stroke-opacity: 0.07; stroke-width: 0.5"/>
    <path d="M 133.45 503.9 L 151.64 503.9 L 151.64 486.65 L 133.45 486.65 L 133.45 503.9 " clip-path="url(#p3ab12170b0)" style="fill: #472a7a; stroke: #ffffff; stroke-opacity: 0.07; stroke-width: 0.5"/>
    <path d="M 151.64 503.9 L 169.83 503.9 L 169.83 486.65 L 151.64 486.65 L 151.64 503.9 " clip-path="url(#p3ab12170b0)" style="fill: #472a7a; stroke: #ffffff; stroke-opacity: 0.07; stroke-width: 0.5"/>
    <path d="M 169.83 503.9 L 188.02 503.9 L 188.02 486.65 L 169.83 486.65 L 169.83 503.9 " clip-path="url(#p3ab12170b0)" style="fill: #472a7a; stroke: #ffffff; stroke-opacity: 0.07; stroke-width: 0.5"/>
    <path d="M 188.02 503.9 L 206.21 503.9 L 206.21 486.65 L 188.02 486.65 L 188.02 503.9 " clip-path="url(#p3ab12170b0)" style="fill: #472a7a; stroke: #ffffff; stroke-opacity: 0.07; stroke-width: 0.5"/>
    <path d="M 206.21 503.9 L 224.4 503.9 L 224.4 486.65 L 206.21 486.65 L 206.21 503.9 " clip-path="url(#p3ab12170b0)" style="fill: #472a7a; stroke: #ffffff; stroke-opacity: 0.07; stroke-width: 0.5"/>
    <path d="M 42.5 486.65 L 60.69 486.65 L 60.69 469.4 L 42.5 469.4 L 42.5 486.65 " clip-path="url(#p3ab12170b0)" style="fill: #3e4989; stroke: #ffffff; stroke-opacity: 0.07; stroke-width: 0.5"/>
    <path d="M 60.69 486.65 L 78.88 486.65 L 78.88 469.4 L 60.69 469.4 L 60.69 486.65 " clip-path="url(#p3ab12170b0)" style="fill: #3b528b; stroke: #ffffff; stroke-opacity: 0.07; stroke-width: 0.5"/>
    <path d="M 78.88 486.65 L 97.07 486.65 L 97.07 469.4 L 78.88 469.4 L 78.88 486.65 " clip-path="url(#p3ab12170b0)" style="fill: #3b528b; stroke: #ffffff; stroke-opacity: 0.07; stroke-width: 0.5"/>
    <path d="M 97.07 486.65 L 115.26 486.65 L 115.26 469.4 L 97.07 469.4 L 97.07 486.65 " clip-path="url(#p3ab12170b0)" style="fill: #3b528b; stroke: #ffffff; stroke-opacity: 0.07; stroke-width: 0.5"/>
    <path d="M 115.26 486.65 L 133.45 486.65 L 133.45 469.4 L 115.26 469.4 L 115.26 486.65 " clip-path="url(#p3ab12170b0)" style="fill: #3b528b; stroke: #ffffff; stroke-opacity: 0.07; stroke-width: 0.5"/>
    <path d="M 133.45 486.65 L 151.64 486.65 L 151.64 469.4 L 133.45 469.4 L 133.45 486.65 " clip-path="url(#p3ab12170b0)" style="fill: #3b528b; stroke: #ffffff; stroke-opacity: 0.07; stroke-width: 0.5"/>
    <path d="M 151.64 486.65 L 169.83 486.65 L 169.83 469.4 L 151.64 469.4 L 151.64 486.65 " clip-path="url(#p3ab12170b0)" style="fill: #3a548c; stroke: #ffffff; stroke-opacity: 0.07; stroke-width: 0.5"/>
    <path d="M 169.83 486.65 L 188.02 486.65 L 188.02 469.4 L 169.83 469.4 L 169.83 486.65 " clip-path="url(#p3ab12170b0)" style="fill: #3b528b; stroke: #ffffff; stroke-opacity: 0.07; stroke-width: 0.5"/>
    <path d="M 188.02 486.65 L 206.21 486.65 L 206.21 469.4 L 188.02 469.4 L 188.02 486.65 " clip-path="url(#p3ab12170b0)" style="fill: #3b528b; stroke: #ffffff; stroke-opacity: 0.07; stroke-width: 0.5"/>
    <path d="M 206.21 486.65 L 224.4 486.65 L 224.4 469.4 L 206.21 469.4 L 206.21 486.65 " clip-path="url(#p3ab12170b0)" style="fill: #3b528b; stroke: #ffffff; stroke-opacity: 0.07; stroke-width: 0.5"/>
    <path d="M 42.5 469.4 L 60.69 469.4 L 60.69 452.15 L 42.5 452.15 L 42.5 469.4 " clip-path="url(#p3ab12170b0)" style="fill: #287d8e; stroke: #ffffff; stroke-opacity: 0.07; stroke-width: 0.5"/>
    <path d="M 60.69 469.4 L 78.88 469.4 L 78.88 452.15 L 60.69 452.15 L 60.69 469.4 " clip-path="url(#p3ab12170b0)" style="fill: #297a8e; stroke: #ffffff; stroke-opacity: 0.07; stroke-width: 0.5"/>
    <path d="M 78.88 469.4 L 97.07 469.4 L 97.07 452.15 L 78.88 452.15 L 78.88 469.4 " clip-path="url(#p3ab12170b0)" style="fill: #2d718e; stroke: #ffffff; stroke-opacity: 0.07; stroke-width: 0.5"/>
    <path d="M 97.07 469.4 L 115.26 469.4 L 115.26 452.15 L 97.07 452.15 L 97.07 469.4 " clip-path="url(#p3ab12170b0)" style="fill: #297a8e; stroke: #ffffff; stroke-opacity: 0.07; stroke-width: 0.5"/>
    <path d="M 115.26 469.4 L 133.45 469.4 L 133.45 452.15 L 115.26 452.15 L 115.26 469.4 " clip-path="url(#p3ab12170b0)" style="fill: #31678e; stroke: #ffffff; stroke-opacity: 0.07; stroke-width: 0.5"/>
    <path d="M 133.45 469.4 L 151.64 469.4 L 151.64 452.15 L 133.45 452.15 L 133.45 469.4 " clip-path="url(#p3ab12170b0)" style="fill: #2d718e; stroke: #ffffff; stroke-opacity: 0.07; stroke-width: 0.5"/>
    <path d="M 151.64 469.4 L 169.83 469.4 L 169.83 452.15 L 151.64 452.15 L 151.64 469.4 " clip-path="url(#p3ab12170b0)" style="fill: #2d718e; stroke: #ffffff; stroke-opacity: 0.07; stroke-width: 0.5"/>
    <path d="M 169.83 469.4 L 188.02 469.4 L 188.02 452.15 L 169.83 452.15 L 169.83 469.4 " clip-path="url(#p3ab12170b0)" style="fill: #2f6c8e; stroke: #ffffff; stroke-opacity: 0.07; stroke-width: 0.5"/>
    <path d="M 188.02 469.4 L 206.21 469.4 L 206.21 452.15 L 188.02 452.15 L 188.02 469.4 " clip-path="url(#p3ab12170b0)" style="fill: #2a788e; stroke: #ffffff; stroke-opacity: 0.07; stroke-width: 0.5"/>
    <path d="M 206.21 469.4 L 224.4 469.4 L 224.4 452.15 L 206.21 452.15 L 206.21 469.4 " clip-path="url(#p3ab12170b0)" style="fill: #2a788e; stroke: #ffffff; stroke-opacity: 0.07; stroke-width: 0.5"/>
    <path d="M 42.5 452.15 L 60.69 452.15 L 60.69 434.9 L 42.5 434.9 L 42.5 452.15 " clip-path="url(#p3ab12170b0)" style="fill: #29af7f; stroke: #ffffff; stroke-opacity: 0.07; stroke-width: 0.5"/>
    <path d="M 60.69 452.15 L 78.88 452.15 L 78.88 434.9 L 60.69 434.9 L 60.69 452.15 " clip-path="url(#p3ab12170b0)" style="fill: #20928c; stroke: #ffffff; stroke-opacity: 0.07; stroke-width: 0.5"/>
    <path d="M 78.88 452.15 L 97.07 452.15 L 97.07 434.9 L 78.88 434.9 L 78.88 452.15 " clip-path="url(#p3ab12170b0)" style="fill: #22a884; stroke: #ffffff; stroke-opacity: 0.07; stroke-width: 0.5"/>
    <path d="M 97.07 452.15 L 115.26 452.15 L 115.26 434.9 L 97.07 434.9 L 97.07 452.15 " clip-path="url(#p3ab12170b0)" style="fill: #22a884; stroke: #ffffff; stroke-opacity: 0.07; stroke-width: 0.5"/>
    <path d="M 115.26 452.15 L 133.45 452.15 L 133.45 434.9 L 115.26 434.9 L 115.26 452.15 " clip-path="url(#p3ab12170b0)" style="fill: #22a884; stroke: #ffffff; stroke-opacity: 0.07; stroke-width: 0.5"/>
    <path d="M 133.45 452.15 L 151.64 452.15 L 151.64 434.9 L 133.45 434.9 L 133.45 452.15 " clip-path="url(#p3ab12170b0)" style="fill: #21a685; stroke: #ffffff; stroke-opacity: 0.07; stroke-width: 0.5"/>
    <path d="M 151.64 452.15 L 169.83 452.15 L 169.83 434.9 L 151.64 434.9 L 151.64 452.15 " clip-path="url(#p3ab12170b0)" style="fill: #26ad81; stroke: #ffffff; stroke-opacity: 0.07; stroke-width: 0.5"/>
    <path d="M 169.83 452.15 L 188.02 452.15 L 188.02 434.9 L 169.83 434.9 L 169.83 452.15 " clip-path="url(#p3ab12170b0)" style="fill: #29af7f; stroke: #ffffff; stroke-opacity: 0.07; stroke-width: 0.5"/>
    <path d="M 188.02 452.15 L 206.21 452.15 L 206.21 434.9 L 188.02 434.9 L 188.02 452.15 " clip-path="url(#p3ab12170b0)" style="fill: #29af7f; stroke: #ffffff; stroke-opacity: 0.07; stroke-width: 0.5"/>
    <path d="M 206.21 452.15 L 224.4 452.15 L 224.4 434.9 L 206.21 434.9 L 206.21 452.15 " clip-path="url(#p3ab12170b0)" style="fill: #2fb47c; stroke: #ffffff; stroke-opacity: 0.07; stroke-width: 0.5"/>
    <path d="M 42.5 434.9 L 60.69 434.9 L 60.69 417.65 L 42.5 417.65 L 42.5 434.9 " clip-path="url(#p3ab12170b0)" style="fill: #6ece58; stroke: #ffffff; stroke-opacity: 0.07; stroke-width: 0.5"/>
    <path d="M 60.69 434.9 L 78.88 434.9 L 78.88 417.65 L 60.69 417.65 L 60.69 434.9 " clip-path="url(#p3ab12170b0)" style="fill: #4ec36b; stroke: #ffffff; stroke-opacity: 0.07; stroke-width: 0.5"/>
    <path d="M 78.88 434.9 L 97.07 434.9 L 97.07 417.65 L 78.88 417.65 L 78.88 434.9 " clip-path="url(#p3ab12170b0)" style="fill: #6ece58; stroke: #ffffff; stroke-opacity: 0.07; stroke-width: 0.5"/>
    <path d="M 97.07 434.9 L 115.26 434.9 L 115.26 417.65 L 97.07 417.65 L 97.07 434.9 " clip-path="url(#p3ab12170b0)" style="fill: #5ec962; stroke: #ffffff; stroke-opacity: 0.07; stroke-width: 0.5"/>
    <path d="M 115.26 434.9 L 133.45 434.9 L 133.45 417.65 L 115.26 417.65 L 115.26 434.9 " clip-path="url(#p3ab12170b0)" style="fill: #63cb5f; stroke: #ffffff; stroke-opacity: 0.07; stroke-width: 0.5"/>
    <path d="M 133.45 434.9 L 151.64 434.9 L 151.64 417.65 L 133.45 417.65 L 133.45 434.9 " clip-path="url(#p3ab12170b0)" style="fill: #6ece58; stroke: #ffffff; stroke-opacity: 0.07; stroke-width: 0.5"/>
    <path d="M 151.64 434.9 L 169.83 434.9 L 169.83 417.65 L 151.64 417.65 L 151.64 434.9 " clip-path="url(#p3ab12170b0)" style="fill: #6ece58; stroke: #ffffff; stroke-opacity: 0.07; stroke-width: 0.5"/>
    <path d="M 169.83 434.9 L 188.02 434.9 L 188.02 417.65 L 169.83 417.65 L 169.83 434.9 " clip-path="url(#p3ab12170b0)" style="fill: #6ece58; stroke: #ffffff; stroke-opacity: 0.07; stroke-width: 0.5"/>
    <path d="M 188.02 434.9 L 206.21 434.9 L 206.21 417.65 L 188.02 417.65 L 188.02 434.9 " clip-path="url(#p3ab12170b0)" style="fill: #7ad151; stroke: #ffffff; stroke-opacity: 0.07; stroke-width: 0.5"/>
    <path d="M 206.21 434.9 L 224.4 434.9 L 224.4 417.65 L 206.21 417.65 L 206.21 434.9 " clip-path="url(#p3ab12170b0)" style="fill: #8bd646; stroke: #ffffff; stroke-opacity: 0.07; stroke-width: 0.5"/>
    <path d="M 42.5 417.65 L 60.69 417.65 L 60.69 400.4 L 42.5 400.4 L 42.5 417.65 " clip-path="url(#p3ab12170b0)" style="fill: #a2da37; stroke: #ffffff; stroke-opacity: 0.07; stroke-width: 0.5"/>
    <path d="M 60.69 417.65 L 78.88 417.65 L 78.88 400.4 L 60.69 400.4 L 60.69 417.65 " clip-path="url(#p3ab12170b0)" style="fill: #6ece58; stroke: #ffffff; stroke-opacity: 0.07; stroke-width: 0.5"/>
    <path d="M 78.88 417.65 L 97.07 417.65 L 97.07 400.4 L 78.88 400.4 L 78.88 417.65 " clip-path="url(#p3ab12170b0)" style="fill: #addc30; stroke: #ffffff; stroke-opacity: 0.07; stroke-width: 0.5"/>
    <path d="M 97.07 417.65 L 115.26 417.65 L 115.26 400.4 L 97.07 400.4 L 97.07 417.65 " clip-path="url(#p3ab12170b0)" style="fill: #86d549; stroke: #ffffff; stroke-opacity: 0.07; stroke-width: 0.5"/>
    <path d="M 115.26 417.65 L 133.45 417.65 L 133.45 400.4 L 115.26 400.4 L 115.26 417.65 " clip-path="url(#p3ab12170b0)" style="fill: #a5db36; stroke: #ffffff; stroke-opacity: 0.07; stroke-width: 0.5"/>
    <path d="M 133.45 417.65 L 151.64 417.65 L 151.64 400.4 L 133.45 400.4 L 133.45 417.65 " clip-path="url(#p3ab12170b0)" style="fill: #90d743; stroke: #ffffff; stroke-opacity: 0.07; stroke-width: 0.5"/>
    <path d="M 151.64 417.65 L 169.83 417.65 L 169.83 400.4 L 151.64 400.4 L 151.64 417.65 " clip-path="url(#p3ab12170b0)" style="fill: #90d743; stroke: #ffffff; stroke-opacity: 0.07; stroke-width: 0.5"/>
    <path d="M 169.83 417.65 L 188.02 417.65 L 188.02 400.4 L 169.83 400.4 L 169.83 417.65 " clip-path="url(#p3ab12170b0)" style="fill: #a5db36; stroke: #ffffff; stroke-opacity: 0.07; stroke-width: 0.5"/>
    <path d="M 188.02 417.65 L 206.21 417.65 L 206.21 400.4 L 188.02 400.4 L 188.02 417.65 " clip-path="url(#p3ab12170b0)" style="fill: #9bd93c; stroke: #ffffff; stroke-opacity: 0.07; stroke-width: 0.5"/>
    <path d="M 206.21 417.65 L 224.4 417.65 L 224.4 400.4 L 206.21 400.4 L 206.21 417.65 " clip-path="url(#p3ab12170b0)" style="fill: #bddf26; stroke: #ffffff; stroke-opacity: 0.07; stroke-width: 0.5"/>
    <path d="M 42.5 400.4 L 60.69 400.4 L 60.69 383.15 L 42.5 383.15 L 42.5 400.4 " clip-path="url(#p3ab12170b0)" style="fill: #fde725; stroke: #ffffff; stroke-opacity: 0.07; stroke-width: 0.5"/>
    <path d="M 60.69 400.4 L 78.88 400.4 L 78.88 383.15 L 60.69 383.15 L 60.69 400.4 " clip-path="url(#p3ab12170b0)" style="fill: #63cb5f; stroke: #ffffff; stroke-opacity: 0.07; stroke-width: 0.5"/>
    <path d="M 78.88 400.4 L 97.07 400.4 L 97.07 383.15 L 78.88 383.15 L 78.88 400.4 " clip-path="url(#p3ab12170b0)" style="fill: #6ece58; stroke: #ffffff; stroke-opacity: 0.07; stroke-width: 0.5"/>
    <path d="M 97.07 400.4 L 115.26 400.4 L 115.26 383.15 L 97.07 383.15 L 97.07 400.4 " clip-path="url(#p3ab12170b0)" style="fill: #86d549; stroke: #ffffff; stroke-opacity: 0.07; stroke-width: 0.5"/>
    <path d="M 115.26 400.4 L 133.45 400.4 L 133.45 383.15 L 115.26 383.15 L 115.26 400.4 " clip-path="url(#p3ab12170b0)" style="fill: #86d549; stroke: #ffffff; stroke-opacity: 0.07; stroke-width: 0.5"/>
    <path d="M 133.45 400.4 L 151.64 400.4 L 151.64 383.15 L 133.45 383.15 L 133.45 400.4 " clip-path="url(#p3ab12170b0)" style="fill: #86d549; stroke: #ffffff; stroke-opacity: 0.07; stroke-width: 0.5"/>
    <path d="M 151.64 400.4 L 169.83 400.4 L 169.83 383.15 L 151.64 383.15 L 151.64 400.4 " clip-path="url(#p3ab12170b0)" style="fill: #86d549; stroke: #ffffff; stroke-opacity: 0.07; stroke-width: 0.5"/>
    <path d="M 169.83 400.4 L 188.02 400.4 L 188.02 383.15 L 169.83 383.15 L 169.83 400.4 " clip-path="url(#p3ab12170b0)" style="fill: #90d743; stroke: #ffffff; stroke-opacity: 0.07; stroke-width: 0.5"/>
    <path d="M 188.02 400.4 L 206.21 400.4 L 206.21 383.15 L 188.02 383.15 L 188.02 400.4 " clip-path="url(#p3ab12170b0)" style="fill: #bddf26; stroke: #ffffff; stroke-opacity: 0.07; stroke-width: 0.5"/>
    <path d="M 206.21 400.4 L 224.4 400.4 L 224.4 383.15 L 206.21 383.15 L 206.21 400.4 " clip-path="url(#p3ab12170b0)" style="fill: #bddf26; stroke: #ffffff; stroke-opacity: 0.07; stroke-width: 0.5"/>
    <path d="M 42.5 383.15 L 60.69 383.15 L 60.69 365.9 L 42.5 365.9 L 42.5 383.15 " clip-path="url(#p3ab12170b0)" style="fill: #6ece58; stroke: #ffffff; stroke-opacity: 0.07; stroke-width: 0.5"/>
    <path d="M 60.69 383.15 L 78.88 383.15 L 78.88 365.9 L 60.69 365.9 L 60.69 383.15 " clip-path="url(#p3ab12170b0)" style="fill: #63cb5f; stroke: #ffffff; stroke-opacity: 0.07; stroke-width: 0.5"/>
    <path d="M 78.88 383.15 L 97.07 383.15 L 97.07 365.9 L 78.88 365.9 L 78.88 383.15 " clip-path="url(#p3ab12170b0)" style="fill: #6ece58; stroke: #ffffff; stroke-opacity: 0.07; stroke-width: 0.5"/>
    <path d="M 97.07 383.15 L 115.26 383.15 L 115.26 365.9 L 97.07 365.9 L 97.07 383.15 " clip-path="url(#p3ab12170b0)" style="fill: #63cb5f; stroke: #ffffff; stroke-opacity: 0.07; stroke-width: 0.5"/>
    <path d="M 115.26 383.15 L 133.45 383.15 L 133.45 365.9 L 115.26 365.9 L 115.26 383.15 " clip-path="url(#p3ab12170b0)" style="fill: #6ece58; stroke: #ffffff; stroke-opacity: 0.07; stroke-width: 0.5"/>
    <path d="M 133.45 383.15 L 151.64 383.15 L 151.64 365.9 L 133.45 365.9 L 133.45 383.15 " clip-path="url(#p3ab12170b0)" style="fill: #6ece58; stroke: #ffffff; stroke-opacity: 0.07; stroke-width: 0.5"/>
    <path d="M 151.64 383.15 L 169.83 383.15 L 169.83 365.9 L 151.64 365.9 L 151.64 383.15 " clip-path="url(#p3ab12170b0)" style="fill: #7ad151; stroke: #ffffff; stroke-opacity: 0.07; stroke-width: 0.5"/>
    <path d="M 169.83 383.15 L 188.02 383.15 L 188.02 365.9 L 169.83 365.9 L 169.83 383.15 " clip-path="url(#p3ab12170b0)" style="fill: #5ec962; stroke: #ffffff; stroke-opacity: 0.07; stroke-width: 0.5"/>
    <path d="M 188.02 383.15 L 206.21 383.15 L 206.21 365.9 L 188.02 365.9 L 188.02 383.15 " clip-path="url(#p3ab12170b0)" style="fill: #6ece58; stroke: #ffffff; stroke-opacity: 0.07; stroke-width: 0.5"/>
    <path d="M 206.21 383.15 L 224.4 383.15 L 224.4 365.9 L 206.21 365.9 L 206.21 383.15 " clip-path="url(#p3ab12170b0)" style="fill: #6ece58; stroke: #ffffff; stroke-opacity: 0.07; stroke-width: 0.5"/>
   </g>
   <g id="matplotlib.axis_1">
    <g id="xtick_13">
     <g id="line2d_19">
      <defs>
       <path id="mce48b48ea6" d="M 0 0 L 0 1.5 " style="stroke: #000000; stroke-width: 0.6"/>
      </defs>
      <g>
       <use href="#mce48b48ea6" x="51.595" y="538.4" style="stroke: #000000; stroke-width: 0.6"/>
      </g>
     </g>
     <g id="text_19">
      <text style="font-size: 16px; font-family: 'Liberation Serif'; text-anchor: middle" x="51.595" y="552.5025" transform="rotate(-0 51.595 552.5025)">1</text>
     </g>
    </g>
    <g id="xtick_14">
     <g id="line2d_20">
      <g>
       <use href="#mce48b48ea6" x="69.785" y="538.4" style="stroke: #000000; stroke-width: 0.6"/>
      </g>
     </g>
     <g id="text_20">
      <text style="font-size: 16px; font-family: 'Liberation Serif'; text-anchor: middle" x="69.785" y="552.5025" transform="rotate(-0 69.785 552.5025)">2</text>
     </g>
    </g>
    <g id="xtick_15">
     <g id="line2d_21">
      <g>
       <use href="#mce48b48ea6" x="87.975" y="538.4" style="stroke: #000000; stroke-width: 0.6"/>
      </g>
     </g>
     <g id="text_21">
      <text style="font-size: 16px; font-family: 'Liberation Serif'; text-anchor: middle" x="87.975" y="552.5025" transform="rotate(-0 87.975 552.5025)">3</text>
     </g>
    </g>
    <g id="xtick_16">
     <g id="line2d_22">
      <g>
       <use href="#mce48b48ea6" x="106.165" y="538.4" style="stroke: #000000; stroke-width: 0.6"/>
      </g>
     </g>
     <g id="text_22">
      <text style="font-size: 16px; font-family: 'Liberation Serif'; text-anchor: middle" x="106.165" y="552.5025" transform="rotate(-0 106.165 552.5025)">4</text>
     </g>
    </g>
    <g id="xtick_17">
     <g id="line2d_23">
      <g>
       <use href="#mce48b48ea6" x="124.355" y="538.4" style="stroke: #000000; stroke-width: 0.6"/>
      </g>
     </g>
     <g id="text_23">
      <text style="font-size: 16px; font-family: 'Liberation Serif'; text-anchor: middle" x="124.355" y="552.5025" transform="rotate(-0 124.355 552.5025)">5</text>
     </g>
    </g>
    <g id="xtick_18">
     <g id="line2d_24">
      <g>
       <use href="#mce48b48ea6" x="142.545" y="538.4" style="stroke: #000000; stroke-width: 0.6"/>
      </g>
     </g>
     <g id="text_24">
      <text style="font-size: 16px; font-family: 'Liberation Serif'; text-anchor: middle" x="142.545" y="552.5025" transform="rotate(-0 142.545 552.5025)">6</text>
     </g>
    </g>
    <g id="xtick_19">
     <g id="line2d_25">
      <g>
       <use href="#mce48b48ea6" x="160.735" y="538.4" style="stroke: #000000; stroke-width: 0.6"/>
      </g>
     </g>
     <g id="text_25">
      <text style="font-size: 16px; font-family: 'Liberation Serif'; text-anchor: middle" x="160.735" y="552.5025" transform="rotate(-0 160.735 552.5025)">7</text>
     </g>
    </g>
    <g id="xtick_20">
     <g id="line2d_26">
      <g>
       <use href="#mce48b48ea6" x="178.925" y="538.4" style="stroke: #000000; stroke-width: 0.6"/>
      </g>
     </g>
     <g id="text_26">
      <text style="font-size: 16px; font-family: 'Liberation Serif'; text-anchor: middle" x="178.925" y="552.5025" transform="rotate(-0 178.925 552.5025)">8</text>
     </g>
    </g>
    <g id="xtick_21">
     <g id="line2d_27">
      <g>
       <use href="#mce48b48ea6" x="197.115" y="538.4" style="stroke: #000000; stroke-width: 0.6"/>
      </g>
     </g>
     <g id="text_27">
      <text style="font-size: 16px; font-family: 'Liberation Serif'; text-anchor: middle" x="197.115" y="552.5025" transform="rotate(-0 197.115 552.5025)">9</text>
     </g>
    </g>
    <g id="xtick_22">
     <g id="line2d_28">
      <g>
       <use href="#mce48b48ea6" x="215.305" y="538.4" style="stroke: #000000; stroke-width: 0.6"/>
      </g>
     </g>
     <g id="text_28">
      <text style="font-size: 16px; font-family: 'Liberation Serif'; text-anchor: middle" x="215.305" y="552.5025" transform="rotate(-0 215.305 552.5025)">10</text>
     </g>
    </g>
    <g id="text_29">
     <text style="font-size: 16px; font-family: 'Liberation Serif'; text-anchor: middle" x="133.45" y="568.2125" transform="rotate(-0 133.45 568.2125)">out</text>
    </g>
   </g>
   <g id="matplotlib.axis_2">
    <g id="ytick_1">
     <g id="line2d_29">
      <defs>
       <path id="me8903920f9" d="M 0 0 L -1.5 0 " style="stroke: #000000; stroke-width: 0.6"/>
      </defs>
      <g>
       <use href="#me8903920f9" x="42.5" y="529.775" style="stroke: #000000; stroke-width: 0.6"/>
      </g>
     </g>
     <g id="text_30">
      <text style="font-size: 16px; font-family: 'Liberation Serif'; text-anchor: end" x="39.5" y="535.32625" transform="rotate(-0 39.5 535.32625)">1</text>
     </g>
    </g>
    <g id="ytick_2">
     <g id="line2d_30">
      <g>
       <use href="#me8903920f9" x="42.5" y="512.525" style="stroke: #000000; stroke-width: 0.6"/>
      </g>
     </g>
     <g id="text_31">
      <text style="font-size: 16px; font-family: 'Liberation Serif'; text-anchor: end" x="39.5" y="518.07625" transform="rotate(-0 39.5 518.07625)">2</text>
     </g>
    </g>
    <g id="ytick_3">
     <g id="line2d_31">
      <g>
       <use href="#me8903920f9" x="42.5" y="495.275" style="stroke: #000000; stroke-width: 0.6"/>
      </g>
     </g>
     <g id="text_32">
      <text style="font-size: 16px; font-family: 'Liberation Serif'; text-anchor: end" x="39.5" y="500.82625" transform="rotate(-0 39.5 500.82625)">3</text>
     </g>
    </g>
    <g id="ytick_4">
     <g id="line2d_32">
      <g>
       <use href="#me8903920f9" x="42.5" y="478.025" style="stroke: #000000; stroke-width: 0.6"/>
      </g>
     </g>
     <g id="text_33">
      <text style="font-size: 16px; font-family: 'Liberation Serif'; text-anchor: end" x="39.5" y="483.57625" transform="rotate(-0 39.5 483.57625)">4</text>
     </g>
    </g>
    <g id="ytick_5">
     <g id="line2d_33">
      <g>
       <use href="#me8903920f9" x="42.5" y="460.775" style="stroke: #000000; stroke-width: 0.6"/>
      </g>
     </g>
     <g id="text_34">
      <text style="font-size: 16px; font-family: 'Liberation Serif'; text-anchor: end" x="39.5" y="466.32625" transform="rotate(-0 39.5 466.32625)">5</text>
     </g>
    </g>
    <g id="ytick_6">
     <g id="line2d_34">
      <g>
       <use href="#me8903920f9" x="42.5" y="443.525" style="stroke: #000000; stroke-width: 0.6"/>
      </g>
     </g>
     <g id="text_35">
      <text style="font-size: 16px; font-family: 'Liberation Serif'; text-anchor: end" x="39.5" y="449.07625" transform="rotate(-0 39.5 449.07625)">6</text>
     </g>
    </g>
    <g id="ytick_7">
     <g id="line2d_35">
      <g>
       <use href="#me8903920f9" x="42.5" y="426.275" style="stroke: #000000; stroke-width: 0.6"/>
      </g>
     </g>
     <g id="text_36">
      <text style="font-size: 16px; font-family: 'Liberation Serif'; text-anchor: end" x="39.5" y="431.82625" transform="rotate(-0 39.5 431.82625)">7</text>
     </g>
    </g>
    <g id="ytick_8">
     <g id="line2d_36">
      <g>
       <use href="#me8903920f9" x="42.5" y="409.025" style="stroke: #000000; stroke-width: 0.6"/>
      </g>
     </g>
     <g id="text_37">
      <text style="font-size: 16px; font-family: 'Liberation Serif'; text-anchor: end" x="39.5" y="414.57625" transform="rotate(-0 39.5 414.57625)">8</text>
     </g>
    </g>
    <g id="ytick_9">
     <g id="line2d_37">
      <g>
       <use href="#me8903920f9" x="42.5" y="391.775" style="stroke: #000000; stroke-width: 0.6"/>
      </g>
     </g>
     <g id="text_38">
      <text style="font-size: 16px; font-family: 'Liberation Serif'; text-anchor: end" x="39.5" y="397.32625" transform="rotate(-0 39.5 397.32625)">9</text>
     </g>
    </g>
    <g id="ytick_10">
     <g id="line2d_38">
      <g>
       <use href="#me8903920f9" x="42.5" y="374.525" style="stroke: #000000; stroke-width: 0.6"/>
      </g>
     </g>
     <g id="text_39">
      <text style="font-size: 16px; font-family: 'Liberation Serif'; text-anchor: end" x="39.5" y="380.07625" transform="rotate(-0 39.5 380.07625)">10</text>
     </g>
    </g>
    <g id="text_40">
     <text style="font-size: 15.5px; font-family: 'Liberation Serif'; text-anchor: middle" x="20.198984" y="452.15" transform="rotate(-90 20.198984 452.15)">lookback</text>
    </g>
   </g>
   <g id="patch_11">
    <path d="M 42.5 538.4 L 42.5 365.9 " style="fill: none; stroke: #000000; stroke-width: 0.8; stroke-linejoin: miter; stroke-linecap: square"/>
   </g>
   <g id="patch_12">
    <path d="M 224.4 538.4 L 224.4 365.9 " style="fill: none; stroke: #000000; stroke-width: 0.8; stroke-linejoin: miter; stroke-linecap: square"/>
   </g>
   <g id="patch_13">
    <path d="M 42.5 538.4 L 224.4 538.4 " style="fill: none; stroke: #000000; stroke-width: 0.8; stroke-linejoin: miter; stroke-linecap: square"/>
   </g>
   <g id="patch_14">
    <path d="M 42.5 365.9 L 224.4 365.9 " style="fill: none; stroke: #000000; stroke-width: 0.8; stroke-linejoin: miter; stroke-linecap: square"/>
   </g>
  </g>
  <g id="axes_4">
   <g id="cbgrad4">
    <path d="M 235.6 538.6 L 244.6 538.6 L 244.6 366 L 235.6 366 z
" style="fill: url(#vir)"/>
   </g>
   <g id="matplotlib.axis_3"/>
   <g id="matplotlib.axis_4">
    <g id="ytick_11">
     <g id="line2d_39">
      <defs>
       <path id="mab79b51a20" d="M 0 0 L 1.5 0 " style="stroke: #000000; stroke-width: 0.6"/>
      </defs>
      <g>
       <use href="#mab79b51a20" x="244.6" y="511.591687" style="stroke: #000000; stroke-width: 0.6"/>
      </g>
     </g>
     <g id="text_41">
      <text style="font-size: 16px; font-family: 'Liberation Serif'; text-anchor: start" x="247.6" y="517.142937" transform="rotate(-0 247.6 517.142937)">550</text>
     </g>
    </g>
    <g id="ytick_12">
     <g id="line2d_40">
      <g>
       <use href="#mab79b51a20" x="244.6" y="469.391198" style="stroke: #000000; stroke-width: 0.6"/>
      </g>
     </g>
     <g id="text_42">
      <text style="font-size: 16px; font-family: 'Liberation Serif'; text-anchor: start" x="247.6" y="474.942448" transform="rotate(-0 247.6 474.942448)">600</text>
     </g>
    </g>
    <g id="ytick_13">
     <g id="line2d_41">
      <g>
       <use href="#mab79b51a20" x="244.6" y="427.190709" style="stroke: #000000; stroke-width: 0.6"/>
      </g>
     </g>
     <g id="text_43">
      <text style="font-size: 16px; font-family: 'Liberation Serif'; text-anchor: start" x="247.6" y="432.741959" transform="rotate(-0 247.6 432.741959)">650</text>
     </g>
    </g>
    <g id="ytick_14">
     <g id="line2d_42">
      <g>
       <use href="#mab79b51a20" x="244.6" y="384.99022" style="stroke: #000000; stroke-width: 0.6"/>
      </g>
     </g>
     <g id="text_44">
      <text style="font-size: 16px; font-family: 'Liberation Serif'; text-anchor: start" x="247.6" y="390.54147" transform="rotate(-0 247.6 390.54147)">700</text>
     </g>
    </g>
   </g>
   <g id="LineCollection_1"/>
   <g id="patch_15">
    <path d="M 235.6 538.6 L 240.1 538.6 L 244.6 538.6 L 244.6 366 L 240.1 366 L 235.6 366 L 235.6 538.6 z
" style="fill: none; stroke: #000000; stroke-width: 0.8; stroke-linejoin: miter; stroke-linecap: square"/>
   </g>
  </g>
  <g id="axes_5">
   <g id="patch_16">
    <path d="M 386 539.2 L 567.9 539.2 L 567.9 365.9 L 386 365.9 z
" style="fill: #ffffff"/>
   </g>
   <g id="QuadMesh_2">
    <path d="M 386 539.2 L 404.19 539.2 L 404.19 521.87 L 386 521.87 L 386 539.2 " clip-path="url(#p21c654df15)" style="fill: #fde725; stroke: #ffffff; stroke-opacity: 0.07; stroke-width: 0.5"/>
    <path d="M 404.19 539.2 L 422.38 539.2 L 422.38 521.87 L 404.19 521.87 L 404.19 539.2 " clip-path="url(#p21c654df15)" style="fill: #fde725; stroke: #ffffff; stroke-opacity: 0.07; stroke-width: 0.5"/>
    <path d="M 422.38 539.2 L 440.57 539.2 L 440.57 521.87 L 422.38 521.87 L 422.38 539.2 " clip-path="url(#p21c654df15)" style="fill: #fde725; stroke: #ffffff; stroke-opacity: 0.07; stroke-width: 0.5"/>
    <path d="M 440.57 539.2 L 458.76 539.2 L 458.76 521.87 L 440.57 521.87 L 440.57 539.2 " clip-path="url(#p21c654df15)" style="fill: #fde725; stroke: #ffffff; stroke-opacity: 0.07; stroke-width: 0.5"/>
    <path d="M 458.76 539.2 L 476.95 539.2 L 476.95 521.87 L 458.76 521.87 L 458.76 539.2 " clip-path="url(#p21c654df15)" style="fill: #fde725; stroke: #ffffff; stroke-opacity: 0.07; stroke-width: 0.5"/>
    <path d="M 476.95 539.2 L 495.14 539.2 L 495.14 521.87 L 476.95 521.87 L 476.95 539.2 " clip-path="url(#p21c654df15)" style="fill: #fde725; stroke: #ffffff; stroke-opacity: 0.07; stroke-width: 0.5"/>
    <path d="M 495.14 539.2 L 513.33 539.2 L 513.33 521.87 L 495.14 521.87 L 495.14 539.2 " clip-path="url(#p21c654df15)" style="fill: #fde725; stroke: #ffffff; stroke-opacity: 0.07; stroke-width: 0.5"/>
    <path d="M 513.33 539.2 L 531.52 539.2 L 531.52 521.87 L 513.33 521.87 L 513.33 539.2 " clip-path="url(#p21c654df15)" style="fill: #fde725; stroke: #ffffff; stroke-opacity: 0.07; stroke-width: 0.5"/>
    <path d="M 531.52 539.2 L 549.71 539.2 L 549.71 521.87 L 531.52 521.87 L 531.52 539.2 " clip-path="url(#p21c654df15)" style="fill: #fde725; stroke: #ffffff; stroke-opacity: 0.07; stroke-width: 0.5"/>
    <path d="M 549.71 539.2 L 567.9 539.2 L 567.9 521.87 L 549.71 521.87 L 549.71 539.2 " clip-path="url(#p21c654df15)" style="fill: #fde725; stroke: #ffffff; stroke-opacity: 0.07; stroke-width: 0.5"/>
    <path d="M 386 521.87 L 404.19 521.87 L 404.19 504.54 L 386 504.54 L 386 521.87 " clip-path="url(#p21c654df15)" style="fill: #1e9c89; stroke: #ffffff; stroke-opacity: 0.07; stroke-width: 0.5"/>
    <path d="M 404.19 521.87 L 422.38 521.87 L 422.38 504.54 L 404.19 504.54 L 404.19 521.87 " clip-path="url(#p21c654df15)" style="fill: #1e9c89; stroke: #ffffff; stroke-opacity: 0.07; stroke-width: 0.5"/>
    <path d="M 422.38 521.87 L 440.57 521.87 L 440.57 504.54 L 422.38 504.54 L 422.38 521.87 " clip-path="url(#p21c654df15)" style="fill: #1e9c89; stroke: #ffffff; stroke-opacity: 0.07; stroke-width: 0.5"/>
    <path d="M 440.57 521.87 L 458.76 521.87 L 458.76 504.54 L 440.57 504.54 L 440.57 521.87 " clip-path="url(#p21c654df15)" style="fill: #1e9c89; stroke: #ffffff; stroke-opacity: 0.07; stroke-width: 0.5"/>
    <path d="M 458.76 521.87 L 476.95 521.87 L 476.95 504.54 L 458.76 504.54 L 458.76 521.87 " clip-path="url(#p21c654df15)" style="fill: #1e9c89; stroke: #ffffff; stroke-opacity: 0.07; stroke-width: 0.5"/>
    <path d="M 476.95 521.87 L 495.14 521.87 L 495.14 504.54 L 476.95 504.54 L 476.95 521.87 " clip-path="url(#p21c654df15)" style="fill: #1e9c89; stroke: #ffffff; stroke-opacity: 0.07; stroke-width: 0.5"/>
    <path d="M 495.14 521.87 L 513.33 521.87 L 513.33 504.54 L 495.14 504.54 L 495.14 521.87 " clip-path="url(#p21c654df15)" style="fill: #1e9c89; stroke: #ffffff; stroke-opacity: 0.07; stroke-width: 0.5"/>
    <path d="M 513.33 521.87 L 531.52 521.87 L 531.52 504.54 L 513.33 504.54 L 513.33 521.87 " clip-path="url(#p21c654df15)" style="fill: #1e9c89; stroke: #ffffff; stroke-opacity: 0.07; stroke-width: 0.5"/>
    <path d="M 531.52 521.87 L 549.71 521.87 L 549.71 504.54 L 531.52 504.54 L 531.52 521.87 " clip-path="url(#p21c654df15)" style="fill: #1e9c89; stroke: #ffffff; stroke-opacity: 0.07; stroke-width: 0.5"/>
    <path d="M 549.71 521.87 L 567.9 521.87 L 567.9 504.54 L 549.71 504.54 L 549.71 521.87 " clip-path="url(#p21c654df15)" style="fill: #1e9c89; stroke: #ffffff; stroke-opacity: 0.07; stroke-width: 0.5"/>
    <path d="M 386 504.54 L 404.19 504.54 L 404.19 487.21 L 386 487.21 L 386 504.54 " clip-path="url(#p21c654df15)" style="fill: #414287; stroke: #ffffff; stroke-opacity: 0.07; stroke-width: 0.5"/>
    <path d="M 404.19 504.54 L 422.38 504.54 L 422.38 487.21 L 404.19 487.21 L 404.19 504.54 " clip-path="url(#p21c654df15)" style="fill: #414287; stroke: #ffffff; stroke-opacity: 0.07; stroke-width: 0.5"/>
    <path d="M 422.38 504.54 L 440.57 504.54 L 440.57 487.21 L 422.38 487.21 L 422.38 504.54 " clip-path="url(#p21c654df15)" style="fill: #453882; stroke: #ffffff; stroke-opacity: 0.07; stroke-width: 0.5"/>
    <path d="M 440.57 504.54 L 458.76 504.54 L 458.76 487.21 L 440.57 487.21 L 440.57 504.54 " clip-path="url(#p21c654df15)" style="fill: #453882; stroke: #ffffff; stroke-opacity: 0.07; stroke-width: 0.5"/>
    <path d="M 458.76 504.54 L 476.95 504.54 L 476.95 487.21 L 458.76 487.21 L 458.76 504.54 " clip-path="url(#p21c654df15)" style="fill: #414287; stroke: #ffffff; stroke-opacity: 0.07; stroke-width: 0.5"/>
    <path d="M 476.95 504.54 L 495.14 504.54 L 495.14 487.21 L 476.95 487.21 L 476.95 504.54 " clip-path="url(#p21c654df15)" style="fill: #414287; stroke: #ffffff; stroke-opacity: 0.07; stroke-width: 0.5"/>
    <path d="M 495.14 504.54 L 513.33 504.54 L 513.33 487.21 L 495.14 487.21 L 495.14 504.54 " clip-path="url(#p21c654df15)" style="fill: #414287; stroke: #ffffff; stroke-opacity: 0.07; stroke-width: 0.5"/>
    <path d="M 513.33 504.54 L 531.52 504.54 L 531.52 487.21 L 513.33 487.21 L 513.33 504.54 " clip-path="url(#p21c654df15)" style="fill: #414287; stroke: #ffffff; stroke-opacity: 0.07; stroke-width: 0.5"/>
    <path d="M 531.52 504.54 L 549.71 504.54 L 549.71 487.21 L 531.52 487.21 L 531.52 504.54 " clip-path="url(#p21c654df15)" style="fill: #414287; stroke: #ffffff; stroke-opacity: 0.07; stroke-width: 0.5"/>
    <path d="M 549.71 504.54 L 567.9 504.54 L 567.9 487.21 L 549.71 487.21 L 549.71 504.54 " clip-path="url(#p21c654df15)" style="fill: #414287; stroke: #ffffff; stroke-opacity: 0.07; stroke-width: 0.5"/>
    <path d="M 386 487.21 L 404.19 487.21 L 404.19 469.88 L 386 469.88 L 386 487.21 " clip-path="url(#p21c654df15)" style="fill: #440154; stroke: #ffffff; stroke-opacity: 0.07; stroke-width: 0.5"/>
    <path d="M 404.19 487.21 L 422.38 487.21 L 422.38 469.88 L 404.19 469.88 L 404.19 487.21 " clip-path="url(#p21c654df15)" style="fill: #440154; stroke: #ffffff; stroke-opacity: 0.07; stroke-width: 0.5"/>
    <path d="M 422.38 487.21 L 440.57 487.21 L 440.57 469.88 L 422.38 469.88 L 422.38 487.21 " clip-path="url(#p21c654df15)" style="fill: #440154; stroke: #ffffff; stroke-opacity: 0.07; stroke-width: 0.5"/>
    <path d="M 440.57 487.21 L 458.76 487.21 L 458.76 469.88 L 440.57 469.88 L 440.57 487.21 " clip-path="url(#p21c654df15)" style="fill: #440154; stroke: #ffffff; stroke-opacity: 0.07; stroke-width: 0.5"/>
    <path d="M 458.76 487.21 L 476.95 487.21 L 476.95 469.88 L 458.76 469.88 L 458.76 487.21 " clip-path="url(#p21c654df15)" style="fill: #440154; stroke: #ffffff; stroke-opacity: 0.07; stroke-width: 0.5"/>
    <path d="M 476.95 487.21 L 495.14 487.21 L 495.14 469.88 L 476.95 469.88 L 476.95 487.21 " clip-path="url(#p21c654df15)" style="fill: #440154; stroke: #ffffff; stroke-opacity: 0.07; stroke-width: 0.5"/>
    <path d="M 495.14 487.21 L 513.33 487.21 L 513.33 469.88 L 495.14 469.88 L 495.14 487.21 " clip-path="url(#p21c654df15)" style="fill: #440154; stroke: #ffffff; stroke-opacity: 0.07; stroke-width: 0.5"/>
    <path d="M 513.33 487.21 L 531.52 487.21 L 531.52 469.88 L 513.33 469.88 L 513.33 487.21 " clip-path="url(#p21c654df15)" style="fill: #440154; stroke: #ffffff; stroke-opacity: 0.07; stroke-width: 0.5"/>
    <path d="M 531.52 487.21 L 549.71 487.21 L 549.71 469.88 L 531.52 469.88 L 531.52 487.21 " clip-path="url(#p21c654df15)" style="fill: #440154; stroke: #ffffff; stroke-opacity: 0.07; stroke-width: 0.5"/>
    <path d="M 549.71 487.21 L 567.9 487.21 L 567.9 469.88 L 549.71 469.88 L 549.71 487.21 " clip-path="url(#p21c654df15)" style="fill: #440154; stroke: #ffffff; stroke-opacity: 0.07; stroke-width: 0.5"/>
    <path d="M 386 469.88 L 404.19 469.88 L 404.19 452.55 L 386 452.55 L 386 469.88 " clip-path="url(#p21c654df15)" style="fill: #471164; stroke: #ffffff; stroke-opacity: 0.07; stroke-width: 0.5"/>
    <path d="M 404.19 469.88 L 422.38 469.88 L 422.38 452.55 L 404.19 452.55 L 404.19 469.88 " clip-path="url(#p21c654df15)" style="fill: #471164; stroke: #ffffff; stroke-opacity: 0.07; stroke-width: 0.5"/>
    <path d="M 422.38 469.88 L 440.57 469.88 L 440.57 452.55 L 422.38 452.55 L 422.38 469.88 " clip-path="url(#p21c654df15)" style="fill: #471164; stroke: #ffffff; stroke-opacity: 0.07; stroke-width: 0.5"/>
    <path d="M 440.57 469.88 L 458.76 469.88 L 458.76 452.55 L 440.57 452.55 L 440.57 469.88 " clip-path="url(#p21c654df15)" style="fill: #471164; stroke: #ffffff; stroke-opacity: 0.07; stroke-width: 0.5"/>
    <path d="M 458.76 469.88 L 476.95 469.88 L 476.95 452.55 L 458.76 452.55 L 458.76 469.88 " clip-path="url(#p21c654df15)" style="fill: #471164; stroke: #ffffff; stroke-opacity: 0.07; stroke-width: 0.5"/>
    <path d="M 476.95 469.88 L 495.14 469.88 L 495.14 452.55 L 476.95 452.55 L 476.95 469.88 " clip-path="url(#p21c654df15)" style="fill: #471164; stroke: #ffffff; stroke-opacity: 0.07; stroke-width: 0.5"/>
    <path d="M 495.14 469.88 L 513.33 469.88 L 513.33 452.55 L 495.14 452.55 L 495.14 469.88 " clip-path="url(#p21c654df15)" style="fill: #471164; stroke: #ffffff; stroke-opacity: 0.07; stroke-width: 0.5"/>
    <path d="M 513.33 469.88 L 531.52 469.88 L 531.52 452.55 L 513.33 452.55 L 513.33 469.88 " clip-path="url(#p21c654df15)" style="fill: #471164; stroke: #ffffff; stroke-opacity: 0.07; stroke-width: 0.5"/>
    <path d="M 531.52 469.88 L 549.71 469.88 L 549.71 452.55 L 531.52 452.55 L 531.52 469.88 " clip-path="url(#p21c654df15)" style="fill: #471164; stroke: #ffffff; stroke-opacity: 0.07; stroke-width: 0.5"/>
    <path d="M 549.71 469.88 L 567.9 469.88 L 567.9 452.55 L 549.71 452.55 L 549.71 469.88 " clip-path="url(#p21c654df15)" style="fill: #471164; stroke: #ffffff; stroke-opacity: 0.07; stroke-width: 0.5"/>
    <path d="M 386 452.55 L 404.19 452.55 L 404.19 435.22 L 386 435.22 L 386 452.55 " clip-path="url(#p21c654df15)" style="fill: #471164; stroke: #ffffff; stroke-opacity: 0.07; stroke-width: 0.5"/>
    <path d="M 404.19 452.55 L 422.38 452.55 L 422.38 435.22 L 404.19 435.22 L 404.19 452.55 " clip-path="url(#p21c654df15)" style="fill: #471164; stroke: #ffffff; stroke-opacity: 0.07; stroke-width: 0.5"/>
    <path d="M 422.38 452.55 L 440.57 452.55 L 440.57 435.22 L 422.38 435.22 L 422.38 452.55 " clip-path="url(#p21c654df15)" style="fill: #471164; stroke: #ffffff; stroke-opacity: 0.07; stroke-width: 0.5"/>
    <path d="M 440.57 452.55 L 458.76 452.55 L 458.76 435.22 L 440.57 435.22 L 440.57 452.55 " clip-path="url(#p21c654df15)" style="fill: #471164; stroke: #ffffff; stroke-opacity: 0.07; stroke-width: 0.5"/>
    <path d="M 458.76 452.55 L 476.95 452.55 L 476.95 435.22 L 458.76 435.22 L 458.76 452.55 " clip-path="url(#p21c654df15)" style="fill: #471164; stroke: #ffffff; stroke-opacity: 0.07; stroke-width: 0.5"/>
    <path d="M 476.95 452.55 L 495.14 452.55 L 495.14 435.22 L 476.95 435.22 L 476.95 452.55 " clip-path="url(#p21c654df15)" style="fill: #471164; stroke: #ffffff; stroke-opacity: 0.07; stroke-width: 0.5"/>
    <path d="M 495.14 452.55 L 513.33 452.55 L 513.33 435.22 L 495.14 435.22 L 495.14 452.55 " clip-path="url(#p21c654df15)" style="fill: #471164; stroke: #ffffff; stroke-opacity: 0.07; stroke-width: 0.5"/>
    <path d="M 513.33 452.55 L 531.52 452.55 L 531.52 435.22 L 513.33 435.22 L 513.33 452.55 " clip-path="url(#p21c654df15)" style="fill: #471164; stroke: #ffffff; stroke-opacity: 0.07; stroke-width: 0.5"/>
    <path d="M 531.52 452.55 L 549.71 452.55 L 549.71 435.22 L 531.52 435.22 L 531.52 452.55 " clip-path="url(#p21c654df15)" style="fill: #471164; stroke: #ffffff; stroke-opacity: 0.07; stroke-width: 0.5"/>
    <path d="M 549.71 452.55 L 567.9 452.55 L 567.9 435.22 L 549.71 435.22 L 549.71 452.55 " clip-path="url(#p21c654df15)" style="fill: #471164; stroke: #ffffff; stroke-opacity: 0.07; stroke-width: 0.5"/>
    <path d="M 386 435.22 L 404.19 435.22 L 404.19 417.89 L 386 417.89 L 386 435.22 " clip-path="url(#p21c654df15)" style="fill: #471365; stroke: #ffffff; stroke-opacity: 0.07; stroke-width: 0.5"/>
    <path d="M 404.19 435.22 L 422.38 435.22 L 422.38 417.89 L 404.19 417.89 L 404.19 435.22 " clip-path="url(#p21c654df15)" style="fill: #471365; stroke: #ffffff; stroke-opacity: 0.07; stroke-width: 0.5"/>
    <path d="M 422.38 435.22 L 440.57 435.22 L 440.57 417.89 L 422.38 417.89 L 422.38 435.22 " clip-path="url(#p21c654df15)" style="fill: #471365; stroke: #ffffff; stroke-opacity: 0.07; stroke-width: 0.5"/>
    <path d="M 440.57 435.22 L 458.76 435.22 L 458.76 417.89 L 440.57 417.89 L 440.57 435.22 " clip-path="url(#p21c654df15)" style="fill: #471365; stroke: #ffffff; stroke-opacity: 0.07; stroke-width: 0.5"/>
    <path d="M 458.76 435.22 L 476.95 435.22 L 476.95 417.89 L 458.76 417.89 L 458.76 435.22 " clip-path="url(#p21c654df15)" style="fill: #471365; stroke: #ffffff; stroke-opacity: 0.07; stroke-width: 0.5"/>
    <path d="M 476.95 435.22 L 495.14 435.22 L 495.14 417.89 L 476.95 417.89 L 476.95 435.22 " clip-path="url(#p21c654df15)" style="fill: #471365; stroke: #ffffff; stroke-opacity: 0.07; stroke-width: 0.5"/>
    <path d="M 495.14 435.22 L 513.33 435.22 L 513.33 417.89 L 495.14 417.89 L 495.14 435.22 " clip-path="url(#p21c654df15)" style="fill: #471365; stroke: #ffffff; stroke-opacity: 0.07; stroke-width: 0.5"/>
    <path d="M 513.33 435.22 L 531.52 435.22 L 531.52 417.89 L 513.33 417.89 L 513.33 435.22 " clip-path="url(#p21c654df15)" style="fill: #471365; stroke: #ffffff; stroke-opacity: 0.07; stroke-width: 0.5"/>
    <path d="M 531.52 435.22 L 549.71 435.22 L 549.71 417.89 L 531.52 417.89 L 531.52 435.22 " clip-path="url(#p21c654df15)" style="fill: #471365; stroke: #ffffff; stroke-opacity: 0.07; stroke-width: 0.5"/>
    <path d="M 549.71 435.22 L 567.9 435.22 L 567.9 417.89 L 549.71 417.89 L 549.71 435.22 " clip-path="url(#p21c654df15)" style="fill: #471365; stroke: #ffffff; stroke-opacity: 0.07; stroke-width: 0.5"/>
    <path d="M 386 417.89 L 404.19 417.89 L 404.19 400.56 L 386 400.56 L 386 417.89 " clip-path="url(#p21c654df15)" style="fill: #470e61; stroke: #ffffff; stroke-opacity: 0.07; stroke-width: 0.5"/>
    <path d="M 404.19 417.89 L 422.38 417.89 L 422.38 400.56 L 404.19 400.56 L 404.19 417.89 " clip-path="url(#p21c654df15)" style="fill: #481467; stroke: #ffffff; stroke-opacity: 0.07; stroke-width: 0.5"/>
    <path d="M 422.38 417.89 L 440.57 417.89 L 440.57 400.56 L 422.38 400.56 L 422.38 417.89 " clip-path="url(#p21c654df15)" style="fill: #481467; stroke: #ffffff; stroke-opacity: 0.07; stroke-width: 0.5"/>
    <path d="M 440.57 417.89 L 458.76 417.89 L 458.76 400.56 L 440.57 400.56 L 440.57 417.89 " clip-path="url(#p21c654df15)" style="fill: #481467; stroke: #ffffff; stroke-opacity: 0.07; stroke-width: 0.5"/>
    <path d="M 458.76 417.89 L 476.95 417.89 L 476.95 400.56 L 458.76 400.56 L 458.76 417.89 " clip-path="url(#p21c654df15)" style="fill: #481467; stroke: #ffffff; stroke-opacity: 0.07; stroke-width: 0.5"/>
    <path d="M 476.95 417.89 L 495.14 417.89 L 495.14 400.56 L 476.95 400.56 L 476.95 417.89 " clip-path="url(#p21c654df15)" style="fill: #481467; stroke: #ffffff; stroke-opacity: 0.07; stroke-width: 0.5"/>
    <path d="M 495.14 417.89 L 513.33 417.89 L 513.33 400.56 L 495.14 400.56 L 495.14 417.89 " clip-path="url(#p21c654df15)" style="fill: #481467; stroke: #ffffff; stroke-opacity: 0.07; stroke-width: 0.5"/>
    <path d="M 513.33 417.89 L 531.52 417.89 L 531.52 400.56 L 513.33 400.56 L 513.33 417.89 " clip-path="url(#p21c654df15)" style="fill: #481467; stroke: #ffffff; stroke-opacity: 0.07; stroke-width: 0.5"/>
    <path d="M 531.52 417.89 L 549.71 417.89 L 549.71 400.56 L 531.52 400.56 L 531.52 417.89 " clip-path="url(#p21c654df15)" style="fill: #481467; stroke: #ffffff; stroke-opacity: 0.07; stroke-width: 0.5"/>
    <path d="M 549.71 417.89 L 567.9 417.89 L 567.9 400.56 L 549.71 400.56 L 549.71 417.89 " clip-path="url(#p21c654df15)" style="fill: #481467; stroke: #ffffff; stroke-opacity: 0.07; stroke-width: 0.5"/>
    <path d="M 386 400.56 L 404.19 400.56 L 404.19 383.23 L 386 383.23 L 386 400.56 " clip-path="url(#p21c654df15)" style="fill: #472a7a; stroke: #ffffff; stroke-opacity: 0.07; stroke-width: 0.5"/>
    <path d="M 404.19 400.56 L 422.38 400.56 L 422.38 383.23 L 404.19 383.23 L 404.19 400.56 " clip-path="url(#p21c654df15)" style="fill: #46327e; stroke: #ffffff; stroke-opacity: 0.07; stroke-width: 0.5"/>
    <path d="M 422.38 400.56 L 440.57 400.56 L 440.57 383.23 L 422.38 383.23 L 422.38 400.56 " clip-path="url(#p21c654df15)" style="fill: #46327e; stroke: #ffffff; stroke-opacity: 0.07; stroke-width: 0.5"/>
    <path d="M 440.57 400.56 L 458.76 400.56 L 458.76 383.23 L 440.57 383.23 L 440.57 400.56 " clip-path="url(#p21c654df15)" style="fill: #46327e; stroke: #ffffff; stroke-opacity: 0.07; stroke-width: 0.5"/>
    <path d="M 458.76 400.56 L 476.95 400.56 L 476.95 383.23 L 458.76 383.23 L 458.76 400.56 " clip-path="url(#p21c654df15)" style="fill: #46327e; stroke: #ffffff; stroke-opacity: 0.07; stroke-width: 0.5"/>
    <path d="M 476.95 400.56 L 495.14 400.56 L 495.14 383.23 L 476.95 383.23 L 476.95 400.56 " clip-path="url(#p21c654df15)" style="fill: #46327e; stroke: #ffffff; stroke-opacity: 0.07; stroke-width: 0.5"/>
    <path d="M 495.14 400.56 L 513.33 400.56 L 513.33 383.23 L 495.14 383.23 L 495.14 400.56 " clip-path="url(#p21c654df15)" style="fill: #46327e; stroke: #ffffff; stroke-opacity: 0.07; stroke-width: 0.5"/>
    <path d="M 513.33 400.56 L 531.52 400.56 L 531.52 383.23 L 513.33 383.23 L 513.33 400.56 " clip-path="url(#p21c654df15)" style="fill: #46327e; stroke: #ffffff; stroke-opacity: 0.07; stroke-width: 0.5"/>
    <path d="M 531.52 400.56 L 549.71 400.56 L 549.71 383.23 L 531.52 383.23 L 531.52 400.56 " clip-path="url(#p21c654df15)" style="fill: #46327e; stroke: #ffffff; stroke-opacity: 0.07; stroke-width: 0.5"/>
    <path d="M 549.71 400.56 L 567.9 400.56 L 567.9 383.23 L 549.71 383.23 L 549.71 400.56 " clip-path="url(#p21c654df15)" style="fill: #46327e; stroke: #ffffff; stroke-opacity: 0.07; stroke-width: 0.5"/>
    <path d="M 386 383.23 L 404.19 383.23 L 404.19 365.9 L 386 365.9 L 386 383.23 " clip-path="url(#p21c654df15)" style="fill: #414287; stroke: #ffffff; stroke-opacity: 0.07; stroke-width: 0.5"/>
    <path d="M 404.19 383.23 L 422.38 383.23 L 422.38 365.9 L 404.19 365.9 L 404.19 383.23 " clip-path="url(#p21c654df15)" style="fill: #3e4989; stroke: #ffffff; stroke-opacity: 0.07; stroke-width: 0.5"/>
    <path d="M 422.38 383.23 L 440.57 383.23 L 440.57 365.9 L 422.38 365.9 L 422.38 383.23 " clip-path="url(#p21c654df15)" style="fill: #3b528b; stroke: #ffffff; stroke-opacity: 0.07; stroke-width: 0.5"/>
    <path d="M 440.57 383.23 L 458.76 383.23 L 458.76 365.9 L 440.57 365.9 L 440.57 383.23 " clip-path="url(#p21c654df15)" style="fill: #3b528b; stroke: #ffffff; stroke-opacity: 0.07; stroke-width: 0.5"/>
    <path d="M 458.76 383.23 L 476.95 383.23 L 476.95 365.9 L 458.76 365.9 L 458.76 383.23 " clip-path="url(#p21c654df15)" style="fill: #3b528b; stroke: #ffffff; stroke-opacity: 0.07; stroke-width: 0.5"/>
    <path d="M 476.95 383.23 L 495.14 383.23 L 495.14 365.9 L 476.95 365.9 L 476.95 383.23 " clip-path="url(#p21c654df15)" style="fill: #3b528b; stroke: #ffffff; stroke-opacity: 0.07; stroke-width: 0.5"/>
    <path d="M 495.14 383.23 L 513.33 383.23 L 513.33 365.9 L 495.14 365.9 L 495.14 383.23 " clip-path="url(#p21c654df15)" style="fill: #3b528b; stroke: #ffffff; stroke-opacity: 0.07; stroke-width: 0.5"/>
    <path d="M 513.33 383.23 L 531.52 383.23 L 531.52 365.9 L 513.33 365.9 L 513.33 383.23 " clip-path="url(#p21c654df15)" style="fill: #3b528b; stroke: #ffffff; stroke-opacity: 0.07; stroke-width: 0.5"/>
    <path d="M 531.52 383.23 L 549.71 383.23 L 549.71 365.9 L 531.52 365.9 L 531.52 383.23 " clip-path="url(#p21c654df15)" style="fill: #3b528b; stroke: #ffffff; stroke-opacity: 0.07; stroke-width: 0.5"/>
    <path d="M 549.71 383.23 L 567.9 383.23 L 567.9 365.9 L 549.71 365.9 L 549.71 383.23 " clip-path="url(#p21c654df15)" style="fill: #3b528b; stroke: #ffffff; stroke-opacity: 0.07; stroke-width: 0.5"/>
   </g>
   <g id="matplotlib.axis_5">
    <g id="xtick_23">
     <g id="line2d_43">
      <g>
       <use href="#mce48b48ea6" x="395.095" y="539.2" style="stroke: #000000; stroke-width: 0.6"/>
      </g>
     </g>
     <g id="text_45">
      <text style="font-size: 16px; font-family: 'Liberation Serif'; text-anchor: middle" x="395.095" y="553.3025" transform="rotate(-0 395.095 553.3025)">1</text>
     </g>
    </g>
    <g id="xtick_24">
     <g id="line2d_44">
      <g>
       <use href="#mce48b48ea6" x="413.285" y="539.2" style="stroke: #000000; stroke-width: 0.6"/>
      </g>
     </g>
     <g id="text_46">
      <text style="font-size: 16px; font-family: 'Liberation Serif'; text-anchor: middle" x="413.285" y="553.3025" transform="rotate(-0 413.285 553.3025)">2</text>
     </g>
    </g>
    <g id="xtick_25">
     <g id="line2d_45">
      <g>
       <use href="#mce48b48ea6" x="431.475" y="539.2" style="stroke: #000000; stroke-width: 0.6"/>
      </g>
     </g>
     <g id="text_47">
      <text style="font-size: 16px; font-family: 'Liberation Serif'; text-anchor: middle" x="431.475" y="553.3025" transform="rotate(-0 431.475 553.3025)">3</text>
     </g>
    </g>
    <g id="xtick_26">
     <g id="line2d_46">
      <g>
       <use href="#mce48b48ea6" x="449.665" y="539.2" style="stroke: #000000; stroke-width: 0.6"/>
      </g>
     </g>
     <g id="text_48">
      <text style="font-size: 16px; font-family: 'Liberation Serif'; text-anchor: middle" x="449.665" y="553.3025" transform="rotate(-0 449.665 553.3025)">4</text>
     </g>
    </g>
    <g id="xtick_27">
     <g id="line2d_47">
      <g>
       <use href="#mce48b48ea6" x="467.855" y="539.2" style="stroke: #000000; stroke-width: 0.6"/>
      </g>
     </g>
     <g id="text_49">
      <text style="font-size: 16px; font-family: 'Liberation Serif'; text-anchor: middle" x="467.855" y="553.3025" transform="rotate(-0 467.855 553.3025)">5</text>
     </g>
    </g>
    <g id="xtick_28">
     <g id="line2d_48">
      <g>
       <use href="#mce48b48ea6" x="486.045" y="539.2" style="stroke: #000000; stroke-width: 0.6"/>
      </g>
     </g>
     <g id="text_50">
      <text style="font-size: 16px; font-family: 'Liberation Serif'; text-anchor: middle" x="486.045" y="553.3025" transform="rotate(-0 486.045 553.3025)">6</text>
     </g>
    </g>
    <g id="xtick_29">
     <g id="line2d_49">
      <g>
       <use href="#mce48b48ea6" x="504.235" y="539.2" style="stroke: #000000; stroke-width: 0.6"/>
      </g>
     </g>
     <g id="text_51">
      <text style="font-size: 16px; font-family: 'Liberation Serif'; text-anchor: middle" x="504.235" y="553.3025" transform="rotate(-0 504.235 553.3025)">7</text>
     </g>
    </g>
    <g id="xtick_30">
     <g id="line2d_50">
      <g>
       <use href="#mce48b48ea6" x="522.425" y="539.2" style="stroke: #000000; stroke-width: 0.6"/>
      </g>
     </g>
     <g id="text_52">
      <text style="font-size: 16px; font-family: 'Liberation Serif'; text-anchor: middle" x="522.425" y="553.3025" transform="rotate(-0 522.425 553.3025)">8</text>
     </g>
    </g>
    <g id="xtick_31">
     <g id="line2d_51">
      <g>
       <use href="#mce48b48ea6" x="540.615" y="539.2" style="stroke: #000000; stroke-width: 0.6"/>
      </g>
     </g>
     <g id="text_53">
      <text style="font-size: 16px; font-family: 'Liberation Serif'; text-anchor: middle" x="540.615" y="553.3025" transform="rotate(-0 540.615 553.3025)">9</text>
     </g>
    </g>
    <g id="xtick_32">
     <g id="line2d_52">
      <g>
       <use href="#mce48b48ea6" x="558.805" y="539.2" style="stroke: #000000; stroke-width: 0.6"/>
      </g>
     </g>
     <g id="text_54">
      <text style="font-size: 16px; font-family: 'Liberation Serif'; text-anchor: middle" x="558.805" y="553.3025" transform="rotate(-0 558.805 553.3025)">10</text>
     </g>
    </g>
    <g id="text_55">
     <text style="font-size: 16px; font-family: 'Liberation Serif'; text-anchor: middle" x="476.95" y="569.0125" transform="rotate(-0 476.95 569.0125)">out</text>
    </g>
   </g>
   <g id="matplotlib.axis_6">
    <g id="ytick_15">
     <g id="line2d_53">
      <g>
       <use href="#me8903920f9" x="386" y="530.535" style="stroke: #000000; stroke-width: 0.6"/>
      </g>
     </g>
     <g id="text_56">
      <text style="font-size: 16px; font-family: 'Liberation Serif'; text-anchor: end" x="383" y="536.08625" transform="rotate(-0 383 536.08625)">1</text>
     </g>
    </g>
    <g id="ytick_16">
     <g id="line2d_54">
      <g>
       <use href="#me8903920f9" x="386" y="513.205" style="stroke: #000000; stroke-width: 0.6"/>
      </g>
     </g>
     <g id="text_57">
      <text style="font-size: 16px; font-family: 'Liberation Serif'; text-anchor: end" x="383" y="518.75625" transform="rotate(-0 383 518.75625)">2</text>
     </g>
    </g>
    <g id="ytick_17">
     <g id="line2d_55">
      <g>
       <use href="#me8903920f9" x="386" y="495.875" style="stroke: #000000; stroke-width: 0.6"/>
      </g>
     </g>
     <g id="text_58">
      <text style="font-size: 16px; font-family: 'Liberation Serif'; text-anchor: end" x="383" y="501.42625" transform="rotate(-0 383 501.42625)">3</text>
     </g>
    </g>
    <g id="ytick_18">
     <g id="line2d_56">
      <g>
       <use href="#me8903920f9" x="386" y="478.545" style="stroke: #000000; stroke-width: 0.6"/>
      </g>
     </g>
     <g id="text_59">
      <text style="font-size: 16px; font-family: 'Liberation Serif'; text-anchor: end" x="383" y="484.09625" transform="rotate(-0 383 484.09625)">4</text>
     </g>
    </g>
    <g id="ytick_19">
     <g id="line2d_57">
      <g>
       <use href="#me8903920f9" x="386" y="461.215" style="stroke: #000000; stroke-width: 0.6"/>
      </g>
     </g>
     <g id="text_60">
      <text style="font-size: 16px; font-family: 'Liberation Serif'; text-anchor: end" x="383" y="466.76625" transform="rotate(-0 383 466.76625)">5</text>
     </g>
    </g>
    <g id="ytick_20">
     <g id="line2d_58">
      <g>
       <use href="#me8903920f9" x="386" y="443.885" style="stroke: #000000; stroke-width: 0.6"/>
      </g>
     </g>
     <g id="text_61">
      <text style="font-size: 16px; font-family: 'Liberation Serif'; text-anchor: end" x="383" y="449.43625" transform="rotate(-0 383 449.43625)">6</text>
     </g>
    </g>
    <g id="ytick_21">
     <g id="line2d_59">
      <g>
       <use href="#me8903920f9" x="386" y="426.555" style="stroke: #000000; stroke-width: 0.6"/>
      </g>
     </g>
     <g id="text_62">
      <text style="font-size: 16px; font-family: 'Liberation Serif'; text-anchor: end" x="383" y="432.10625" transform="rotate(-0 383 432.10625)">7</text>
     </g>
    </g>
    <g id="ytick_22">
     <g id="line2d_60">
      <g>
       <use href="#me8903920f9" x="386" y="409.225" style="stroke: #000000; stroke-width: 0.6"/>
      </g>
     </g>
     <g id="text_63">
      <text style="font-size: 16px; font-family: 'Liberation Serif'; text-anchor: end" x="383" y="414.77625" transform="rotate(-0 383 414.77625)">8</text>
     </g>
    </g>
    <g id="ytick_23">
     <g id="line2d_61">
      <g>
       <use href="#me8903920f9" x="386" y="391.895" style="stroke: #000000; stroke-width: 0.6"/>
      </g>
     </g>
     <g id="text_64">
      <text style="font-size: 16px; font-family: 'Liberation Serif'; text-anchor: end" x="383" y="397.44625" transform="rotate(-0 383 397.44625)">9</text>
     </g>
    </g>
    <g id="ytick_24">
     <g id="line2d_62">
      <g>
       <use href="#me8903920f9" x="386" y="374.565" style="stroke: #000000; stroke-width: 0.6"/>
      </g>
     </g>
     <g id="text_65">
      <text style="font-size: 16px; font-family: 'Liberation Serif'; text-anchor: end" x="383" y="380.11625" transform="rotate(-0 383 380.11625)">10</text>
     </g>
    </g>
    <g id="text_66">
     <text style="font-size: 15.5px; font-family: 'Liberation Serif'; text-anchor: middle" x="363.698984" y="452.55" transform="rotate(-90 363.698984 452.55)">lookback</text>
    </g>
   </g>
   <g id="patch_17">
    <path d="M 386 539.2 L 386 365.9 " style="fill: none; stroke: #000000; stroke-width: 0.8; stroke-linejoin: miter; stroke-linecap: square"/>
   </g>
   <g id="patch_18">
    <path d="M 567.9 539.2 L 567.9 365.9 " style="fill: none; stroke: #000000; stroke-width: 0.8; stroke-linejoin: miter; stroke-linecap: square"/>
   </g>
   <g id="patch_19">
    <path d="M 386 539.2 L 567.9 539.2 " style="fill: none; stroke: #000000; stroke-width: 0.8; stroke-linejoin: miter; stroke-linecap: square"/>
   </g>
   <g id="patch_20">
    <path d="M 386 365.9 L 567.9 365.9 " style="fill: none; stroke: #000000; stroke-width: 0.8; stroke-linejoin: miter; stroke-linecap: square"/>
   </g>
  </g>
  <g id="axes_6">
   <g id="cbgrad6">
    <path d="M 579.2 538.9 L 588.3 538.9 L 588.3 366 L 579.2 366 z
" style="fill: url(#vir)"/>
   </g>
   <g id="matplotlib.axis_7"/>
   <g id="matplotlib.axis_8">
    <g id="ytick_25">
     <g id="line2d_63">
      <g>
       <use href="#mab79b51a20" x="588.3" y="512.580778" style="stroke: #000000; stroke-width: 0.6"/>
      </g>
     </g>
     <g id="text_67">
      <text style="font-size: 16px; font-family: 'Liberation Serif'; text-anchor: start" x="591.3" y="518.132028" transform="rotate(-0 591.3 518.132028)">300</text>
     </g>
    </g>
    <g id="ytick_26">
     <g id="line2d_64">
      <g>
       <use href="#mab79b51a20" x="588.3" y="474.158556" style="stroke: #000000; stroke-width: 0.6"/>
      </g>
     </g>
     <g id="text_68">
      <text style="font-size: 16px; font-family: 'Liberation Serif'; text-anchor: start" x="591.3" y="479.709806" transform="rotate(-0 591.3 479.709806)">320</text>
     </g>
    </g>
    <g id="ytick_27">
     <g id="line2d_65">
      <g>
       <use href="#mab79b51a20" x="588.3" y="435.736333" style="stroke: #000000; stroke-width: 0.6"/>
      </g>
     </g>
     <g id="text_69">
      <text style="font-size: 16px; font-family: 'Liberation Serif'; text-anchor: start" x="591.3" y="441.287583" transform="rotate(-0 591.3 441.287583)">340</text>
     </g>
    </g>
    <g id="ytick_28">
     <g id="line2d_66">
      <g>
       <use href="#mab79b51a20" x="588.3" y="397.314111" style="stroke: #000000; stroke-width: 0.6"/>
      </g>
     </g>
     <g id="text_70">
      <text style="font-size: 16px; font-family: 'Liberation Serif'; text-anchor: start" x="591.3" y="402.865361" transform="rotate(-0 591.3 402.865361)">360</text>
     </g>
    </g>
   </g>
   <g id="LineCollection_2"/>
   <g id="patch_21">
    <path d="M 579.2 538.9 L 583.75 538.9 L 588.3 538.9 L 588.3 366 L 583.75 366 L 579.2 366 L 579.2 538.9 z
" style="fill: none; stroke: #000000; stroke-width: 0.8; stroke-linejoin: miter; stroke-linecap: square"/>
   </g>
  </g>
  <g id="axes_7">
   <g id="patch_22">
    <path d="M 32.4 879.1 L 224.1 879.1 L 224.1 667.1 L 32.4 667.1 z
" style="fill: #ffffff"/>
   </g>
   <g id="patch_23">
    <path d="M 32.4 737.766667 L 96.3 737.766667 L 96.3 808.433333 L 32.4 808.433333 z
" clip-path="url(#pfa3c515e9f)" style="fill: #440154; stroke: #ffffff; stroke-width: 1.2; stroke-linejoin: miter"/>
   </g>
   <g id="patch_24">
    <path d="M 32.4 808.433333 L 96.3 808.433333 L 96.3 879.1 L 32.4 879.1 z
" clip-path="url(#pfa3c515e9f)" style="fill: #fde725; stroke: #ffffff; stroke-width: 1.2; stroke-linejoin: miter"/>
   </g>
   <g id="patch_25">
    <path d="M 96.3 808.433333 L 160.2 808.433333 L 160.2 879.1 L 96.3 879.1 z
" clip-path="url(#pfa3c515e9f)" style="fill: #470d60; stroke: #ffffff; stroke-width: 1.2; stroke-linejoin: miter"/>
   </g>
   <g id="matplotlib.axis_9">
    <g id="xtick_33">
     <g id="line2d_67">
      <g>
       <use href="#mce48b48ea6" x="64.35" y="879.1" style="stroke: #000000; stroke-width: 0.6"/>
      </g>
     </g>
     <g id="text_71">
      <text style="font-size: 16.5px; font-family: 'Liberation Serif'; text-anchor: middle" x="64.35" y="894.049453" transform="rotate(-0 64.35 894.049453)">lookback</text>
     </g>
    </g>
    <g id="xtick_34">
     <g id="line2d_68">
      <g>
       <use href="#mce48b48ea6" x="128.25" y="879.1" style="stroke: #000000; stroke-width: 0.6"/>
      </g>
     </g>
     <g id="text_72">
      <text style="font-size: 16.5px; font-family: 'Liberation Serif'; text-anchor: middle" x="128.25" y="894.049453" transform="rotate(-0 128.25 894.049453)">out</text>
     </g>
    </g>
    <g id="xtick_35">
     <g id="line2d_69">
      <g>
       <use href="#mce48b48ea6" x="192.15" y="879.1" style="stroke: #000000; stroke-width: 0.6"/>
      </g>
     </g>
     <g id="text_73">
      <text style="font-size: 16.5px; font-family: 'Liberation Serif'; text-anchor: middle" x="192.15" y="894.049453" transform="rotate(-0 192.15 894.049453)">MAE</text>
     </g>
    </g>
   </g>
   <g id="matplotlib.axis_10">
    <g id="ytick_29">
     <g id="line2d_70">
      <g>
       <use href="#me8903920f9" x="32.4" y="702.433333" style="stroke: #000000; stroke-width: 0.6"/>
      </g>
     </g>
     <g id="text_74">
      <text style="font-size: 16.5px; font-family: 'Liberation Serif'" transform="translate(25.386016 732.67474) rotate(-90)">lookback</text>
     </g>
    </g>
    <g id="ytick_30">
     <g id="line2d_71">
      <g>
       <use href="#me8903920f9" x="32.4" y="773.1" style="stroke: #000000; stroke-width: 0.6"/>
      </g>
     </g>
     <g id="text_75">
      <text style="font-size: 16.5px; font-family: 'Liberation Serif'" transform="translate(25.386016 783.641953) rotate(-90)">out</text>
     </g>
    </g>
    <g id="ytick_31">
     <g id="line2d_72">
      <g>
       <use href="#me8903920f9" x="32.4" y="843.766667" style="stroke: #000000; stroke-width: 0.6"/>
      </g>
     </g>
     <g id="text_76">
      <text style="font-size: 16.5px; font-family: 'Liberation Serif'" transform="translate(25.386016 862.099714) rotate(-90)">MAE</text>
     </g>
    </g>
   </g>
   <g id="text_77">
    <text style="font-size: 17px; font-family: 'Liberation Serif'; text-anchor: middle; fill: #ffffff" x="64.35" y="777.187969" transform="rotate(-0 64.35 777.187969)">0.00</text>
   </g>
   <g id="text_78">
    <text style="font-size: 17px; font-family: 'Liberation Serif'; text-anchor: middle; fill: #262626" x="64.35" y="847.854635" transform="rotate(-0 64.35 847.854635)">0.96</text>
   </g>
   <g id="text_79">
    <text style="font-size: 17px; font-family: 'Liberation Serif'; text-anchor: middle; fill: #ffffff" x="128.25" y="847.854635" transform="rotate(-0 128.25 847.854635)">0.03</text>
   </g>
  </g>
  <g id="axes_8">
   <g id="cbgrad8">
    <path d="M 236.7 879.1 L 246.7 879.1 L 246.7 667.1 L 236.7 667.1 z
" style="fill: url(#vir)"/>
   </g>
   <g id="matplotlib.axis_11"/>
   <g id="matplotlib.axis_12">
    <g id="ytick_32">
     <g id="line2d_73">
      <g>
       <use href="#mab79b51a20" x="246.7" y="879.1" style="stroke: #000000; stroke-width: 0.6"/>
      </g>
     </g>
     <g id="text_80">
      <text style="font-size: 16.5px; font-family: 'Liberation Serif'; text-anchor: start" x="249.7" y="884.824727" transform="rotate(-0 249.7 884.824727)">0.0</text>
     </g>
    </g>
    <g id="ytick_33">
     <g id="line2d_74">
      <g>
       <use href="#mab79b51a20" x="246.7" y="834.933333" style="stroke: #000000; stroke-width: 0.6"/>
      </g>
     </g>
     <g id="text_81">
      <text style="font-size: 16.5px; font-family: 'Liberation Serif'; text-anchor: start" x="249.7" y="840.65806" transform="rotate(-0 249.7 840.65806)">0.2</text>
     </g>
    </g>
    <g id="ytick_34">
     <g id="line2d_75">
      <g>
       <use href="#mab79b51a20" x="246.7" y="790.766667" style="stroke: #000000; stroke-width: 0.6"/>
      </g>
     </g>
     <g id="text_82">
      <text style="font-size: 16.5px; font-family: 'Liberation Serif'; text-anchor: start" x="249.7" y="796.491393" transform="rotate(-0 249.7 796.491393)">0.4</text>
     </g>
    </g>
    <g id="ytick_35">
     <g id="line2d_76">
      <g>
       <use href="#mab79b51a20" x="246.7" y="746.6" style="stroke: #000000; stroke-width: 0.6"/>
      </g>
     </g>
     <g id="text_83">
      <text style="font-size: 16.5px; font-family: 'Liberation Serif'; text-anchor: start" x="249.7" y="752.324727" transform="rotate(-0 249.7 752.324727)">0.6</text>
     </g>
    </g>
    <g id="ytick_36">
     <g id="line2d_77">
      <g>
       <use href="#mab79b51a20" x="246.7" y="702.433333" style="stroke: #000000; stroke-width: 0.6"/>
      </g>
     </g>
     <g id="text_84">
      <text style="font-size: 16.5px; font-family: 'Liberation Serif'; text-anchor: start" x="249.7" y="708.15806" transform="rotate(-0 249.7 708.15806)">0.8</text>
     </g>
    </g>
   </g>
   <g id="LineCollection_3"/>
  </g>
  <g id="axes_9">
   <g id="patch_26">
    <path d="M 373.8 880.3 L 560.4 880.3 L 560.4 673.8 L 373.8 673.8 z
" style="fill: #ffffff"/>
   </g>
   <g id="patch_27">
    <path d="M 373.8 742.633333 L 436 742.633333 L 436 811.466667 L 373.8 811.466667 z
" clip-path="url(#pacccc48233)" style="fill: #f8e621; stroke: #ffffff; stroke-width: 1.2; stroke-linejoin: miter"/>
   </g>
   <g id="patch_28">
    <path d="M 373.8 811.466667 L 436 811.466667 L 436 880.3 L 373.8 880.3 z
" clip-path="url(#pacccc48233)" style="fill: #440256; stroke: #ffffff; stroke-width: 1.2; stroke-linejoin: miter"/>
   </g>
   <g id="patch_29">
    <path d="M 436 811.466667 L 498.2 811.466667 L 498.2 880.3 L 436 880.3 z
" clip-path="url(#pacccc48233)" style="fill: #f8e621; stroke: #ffffff; stroke-width: 1.2; stroke-linejoin: miter"/>
   </g>
   <g id="matplotlib.axis_13">
    <g id="xtick_36">
     <g id="line2d_78">
      <g>
       <use href="#mce48b48ea6" x="404.9" y="880.3" style="stroke: #000000; stroke-width: 0.6"/>
      </g>
     </g>
     <g id="text_85">
      <text style="font-size: 15.84px; font-family: 'Liberation Serif'; text-anchor: middle" x="404.9" y="894.791475" transform="rotate(-0 404.9 894.791475)">lookback</text>
     </g>
    </g>
    <g id="xtick_37">
     <g id="line2d_79">
      <g>
       <use href="#mce48b48ea6" x="467.1" y="880.3" style="stroke: #000000; stroke-width: 0.6"/>
      </g>
     </g>
     <g id="text_86">
      <text style="font-size: 15.84px; font-family: 'Liberation Serif'; text-anchor: middle" x="467.1" y="894.791475" transform="rotate(-0 467.1 894.791475)">out</text>
     </g>
    </g>
    <g id="xtick_38">
     <g id="line2d_80">
      <g>
       <use href="#mce48b48ea6" x="529.3" y="880.3" style="stroke: #000000; stroke-width: 0.6"/>
      </g>
     </g>
     <g id="text_87">
      <text style="font-size: 15.84px; font-family: 'Liberation Serif'; text-anchor: middle" x="529.3" y="894.791475" transform="rotate(-0 529.3 894.791475)">MAE</text>
     </g>
    </g>
   </g>
   <g id="matplotlib.axis_14">
    <g id="ytick_37">
     <g id="line2d_81">
      <g>
       <use href="#me8903920f9" x="373.8" y="708.216667" style="stroke: #000000; stroke-width: 0.6"/>
      </g>
     </g>
     <g id="text_88">
      <text style="font-size: 15.84px; font-family: 'Liberation Serif'" transform="translate(366.926575 737.248417) rotate(-90)">lookback</text>
     </g>
    </g>
    <g id="ytick_38">
     <g id="line2d_82">
      <g>
       <use href="#me8903920f9" x="373.8" y="777.05" style="stroke: #000000; stroke-width: 0.6"/>
      </g>
     </g>
     <g id="text_89">
      <text style="font-size: 15.84px; font-family: 'Liberation Serif'" transform="translate(366.926575 787.170275) rotate(-90)">out</text>
     </g>
    </g>
    <g id="ytick_39">
     <g id="line2d_83">
      <g>
       <use href="#me8903920f9" x="373.8" y="845.883333" style="stroke: #000000; stroke-width: 0.6"/>
      </g>
     </g>
     <g id="text_90">
      <text style="font-size: 15.84px; font-family: 'Liberation Serif'" transform="translate(366.926575 863.483058) rotate(-90)">MAE</text>
     </g>
    </g>
   </g>
   <g id="text_91">
    <text style="font-size: 16.32px; font-family: 'Liberation Serif'; text-anchor: middle; fill: #262626" x="404.9" y="780.97445" transform="rotate(-0 404.9 780.97445)">0.00</text>
   </g>
   <g id="text_92">
    <text style="font-size: 16.32px; font-family: 'Liberation Serif'; text-anchor: middle; fill: #ffffff" x="404.9" y="849.807783" transform="rotate(-0 404.9 849.807783)">-0.58</text>
   </g>
   <g id="text_93">
    <text style="font-size: 16.32px; font-family: 'Liberation Serif'; text-anchor: middle; fill: #262626" x="467.1" y="849.807783" transform="rotate(-0 467.1 849.807783)">0.00</text>
   </g>
  </g>
  <g id="axes_10">
   <g id="cbgrad10">
    <path d="M 572 880.3 L 582 880.3 L 582 673.8 L 572 673.8 z
" style="fill: url(#vir)"/>
   </g>
   <g id="matplotlib.axis_15"/>
   <g id="matplotlib.axis_16">
    <g id="ytick_40">
     <g id="line2d_84">
      <g>
       <use href="#mab79b51a20" x="582" y="675.9" style="stroke: #000000; stroke-width: 0.6"/>
      </g>
     </g>
     <g id="text_94">
      <text style="font-size: 16.5px; font-family: 'Liberation Serif'; text-anchor: start" x="585" y="681.624727" transform="rotate(-0 585 681.624727)">0.0</text>
     </g>
    </g>
    <g id="ytick_41">
     <g id="line2d_85">
      <g>
       <use href="#mab79b51a20" x="582" y="710.9" style="stroke: #000000; stroke-width: 0.6"/>
      </g>
     </g>
     <g id="text_95">
      <text style="font-size: 16.5px; font-family: 'Liberation Serif'; text-anchor: start" x="585" y="716.624727" transform="rotate(-0 585 716.624727)">−0.1</text>
     </g>
    </g>
    <g id="ytick_42">
     <g id="line2d_86">
      <g>
       <use href="#mab79b51a20" x="582" y="745.9" style="stroke: #000000; stroke-width: 0.6"/>
      </g>
     </g>
     <g id="text_96">
      <text style="font-size: 16.5px; font-family: 'Liberation Serif'; text-anchor: start" x="585" y="751.624727" transform="rotate(-0 585 751.624727)">−0.2</text>
     </g>
    </g>
    <g id="ytick_43">
     <g id="line2d_87">
      <g>
       <use href="#mab79b51a20" x="582" y="780.9" style="stroke: #000000; stroke-width: 0.6"/>
      </g>
     </g>
     <g id="text_97">
      <text style="font-size: 16.5px; font-family: 'Liberation Serif'; text-anchor: start" x="585" y="786.624727" transform="rotate(-0 585 786.624727)">−0.3</text>
     </g>
    </g>
    <g id="ytick_44">
     <g id="line2d_88">
      <g>
       <use href="#mab79b51a20" x="582" y="815.9" style="stroke: #000000; stroke-width: 0.6"/>
      </g>
     </g>
     <g id="text_98">
      <text style="font-size: 16.5px; font-family: 'Liberation Serif'; text-anchor: start" x="585" y="821.624727" transform="rotate(-0 585 821.624727)">−0.4</text>
     </g>
    </g>
    <g id="ytick_45">
     <g id="line2d_89">
      <g>
       <use href="#mab79b51a20" x="582" y="850.9" style="stroke: #000000; stroke-width: 0.6"/>
      </g>
     </g>
     <g id="text_99">
      <text style="font-size: 16.5px; font-family: 'Liberation Serif'; text-anchor: start" x="585" y="856.624727" transform="rotate(-0 585 856.624727)">−0.5</text>
     </g>
    </g>
   </g>
   <g id="LineCollection_4"/>
  </g>
  <g id="text_100">
   <text style="font-size: 26px; font-family: 'Liberation Serif'; text-anchor: middle" x="143.5" y="17.9" transform="rotate(-0 143.5 17.9)">M3 Yearly</text>
  </g>
  <g id="text_101">
   <text style="font-size: 24.8px; font-family: 'Liberation Serif'; text-anchor: middle" x="475.9" y="20.5" transform="rotate(-0 475.9 20.5)">M3 Quarterly</text>
  </g>
  <g id="text_102">
   <text style="font-size: 20px; font-family: 'Liberation Serif'; text-anchor: middle" x="160" y="306.25" transform="rotate(-0 160 306.25)">(a)</text>
  </g>
  <g id="text_103">
   <text style="font-size: 20px; font-family: 'Liberation Serif'; text-anchor: middle" x="489.8" y="306.25" transform="rotate(-0 489.8 306.25)">(b)</text>
  </g>
  <g id="text_104">
   <text style="font-size: 19.3px; font-family: 'Liberation Serif'; text-anchor: middle" x="133.2" y="359.4" transform="rotate(-0 133.2 359.4)">M3 Yearly</text>
  </g>
  <g id="text_105">
   <text style="font-size: 18.6px; font-family: 'Liberation Serif'; text-anchor: middle" x="476.75" y="357.9" transform="rotate(-0 476.75 357.9)">M3 Quarterly</text>
  </g>
  <g id="text_106">
   <text style="font-size: 20px; font-family: 'Liberation Serif'; text-anchor: middle" x="140" y="594" transform="rotate(-0 140 594)">(e)</text>
  </g>
  <g id="text_107">
   <text style="font-size: 20px; font-family: 'Liberation Serif'; text-anchor: middle" x="483.5" y="594" transform="rotate(-0 483.5 594)">(f)</text>
  </g>
  <g id="text_108">
   <text style="font-size: 19.7px; font-family: 'Liberation Serif'; text-anchor: middle" x="127.9" y="640.8" transform="rotate(-0 127.9 640.8)">Heatmap of correlation matrix</text>
  </g>
  <g id="text_109">
   <text style="font-size: 19.7px; font-family: 'Liberation Serif'; text-anchor: middle" x="130.25" y="661" transform="rotate(-0 130.25 661)">in M3 Yearly</text>
  </g>
  <g id="text_110">
   <text style="font-size: 18.912px; font-family: 'Liberation Serif'; text-anchor: middle" x="466.65" y="649.9" transform="rotate(-0 466.65 649.9)">Heatmap of correlation matrix</text>
  </g>
  <g id="text_111">
   <text style="font-size: 18.912px; font-family: 'Liberation Serif'; text-anchor: middle" x="469.25" y="668.6" transform="rotate(-0 469.25 668.6)">in M3 Quarterly</text>
  </g>
  <g id="text_112">
   <text style="font-size: 20px; font-family: 'Liberation Serif'; text-anchor: middle" x="140" y="921.5" transform="rotate(-0 140 921.5)">(i)</text>
  </g>
  <g id="text_113">
   <text style="font-size: 20px; font-family: 'Liberation Serif'; text-anchor: middle" x="482.8" y="921.5" transform="rotate(-0 482.8 921.5)">(j)</text>
  </g>
 </g>
 <defs>
  <clipPath id="pc98b0e5503">
   <rect x="27.178074" y="22.656892" width="233.873069" height="233.873069"/>
  </clipPath>
  <clipPath id="p0f02f14226">
   <rect x="360.903411" y="24.261023" width="230.68871" height="230.68871"/>
  </clipPath>
  <clipPath id="p3ab12170b0">
   <rect x="42.5" y="365.9" width="181.9" height="172.5"/>
  </clipPath>
  <clipPath id="p21c654df15">
   <rect x="386" y="365.9" width="181.9" height="173.3"/>
  </clipPath>
  <clipPath id="pfa3c515e9f">
   <rect x="32.4" y="667.1" width="191.7" height="212"/>
  </clipPath>
  <clipPath id="pacccc48233">
   <rect x="373.8" y="673.8" width="186.6" height="206.5"/>
  </clipPath>
 </defs>
<g font-family="'Liberation Serif'" font-size="20px" fill="#000">
<text x="1" y="957.7">Fig.</text>
<text x="39.5" y="957.7">10.</text>
<text x="79" y="957.7">Relationship</text>
<text x="190" y="957.7">between</text>
<text x="261" y="957.7" font-style="italic" textLength="60" lengthAdjust="spacing">error,</text>
<text x="326.5" y="957.7" font-style="italic" textLength="81" lengthAdjust="spacing">lookback</text>
<text x="414" y="957.7">and</text>
<text x="451.5" y="957.7" font-style="italic" textLength="28" lengthAdjust="spacing">out</text>
<text x="489.5" y="957.7">in</text>
<text x="511" y="957.7">M3</text>
<text x="547" y="957.7">data</text>
<text x="584" y="957.7">set.</text>
</g>
</svg>

</body></html>
